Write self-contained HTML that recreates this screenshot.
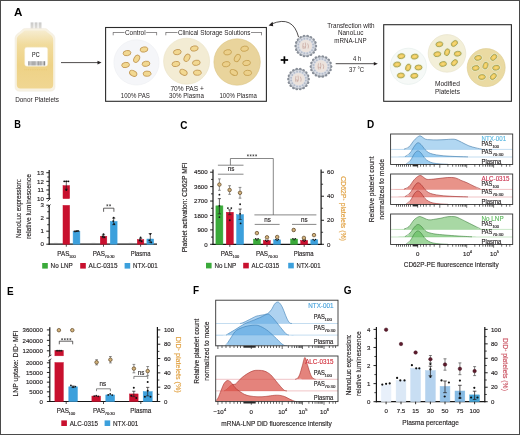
<!DOCTYPE html>
<html><head><meta charset="utf-8"><style>
html,body{margin:0;padding:0;background:#fff;}
body{width:520px;height:435px;overflow:hidden;position:relative;}
svg{position:absolute;left:0;top:0;display:block;will-change:transform;}
#frame{position:absolute;left:0;top:0;width:518px;height:433px;border:1px solid #4a4a4a;pointer-events:none;}
</style></head><body>
<svg width="520" height="435" viewBox="0 0 520 435" font-family='"Liberation Sans", sans-serif'>
<text x="14" y="16" font-size="11.6" text-anchor="start" fill="#000" font-weight="bold">A</text>
<defs><linearGradient id="bagg" x1="0" y1="0" x2="0" y2="1"><stop offset="0" stop-color="#f6ecd0"/><stop offset="0.25" stop-color="#f1db9c"/><stop offset="0.6" stop-color="#eed286"/><stop offset="1" stop-color="#f0d692"/></linearGradient><linearGradient id="nozg" x1="0" y1="0" x2="0" y2="1"><stop offset="0" stop-color="#c9c9c9"/><stop offset="1" stop-color="#e9e6dc"/></linearGradient></defs>
<rect x="30.6" y="22.4" width="2.9" height="9" fill="url(#nozg)" stroke="none" stroke-width="0.8"/>
<rect x="34.6" y="22.4" width="2.9" height="9" fill="url(#nozg)" stroke="none" stroke-width="0.8"/>
<rect x="38.6" y="22.4" width="2.9" height="9" fill="url(#nozg)" stroke="none" stroke-width="0.8"/>
<path d="M25.5,28.4 L44.5,28.4 C47,28.4 48,30 49.5,31.5 C51.5,33.3 55,34.5 55,39 L55,86.5 Q55,91.2 50.2,91.2 L19.8,91.2 Q15,91.2 15,86.5 L15,39 C15,34.5 18.5,33.3 20.5,31.5 C22,30 23,28.4 25.5,28.4 Z" fill="#f8f2e2" stroke="#efe9dc" stroke-width="0.5"/>
<path d="M26,30.4 L44,30.4 C46,30.4 47,32 48.5,33.3 C50.5,35 53.2,36 53.2,40 L53.2,84.8 Q53.2,88.4 49.6,88.4 L20.4,88.4 Q16.8,88.4 16.8,84.8 L16.8,40 C16.8,36 19.5,35 21.5,33.3 C23,32 24,30.4 26,30.4 Z" fill="url(#bagg)" stroke="none" stroke-width="0.8"/>
<rect x="24.7" y="47.2" width="23" height="19" fill="#ffffff" stroke="#f3e8c8" stroke-width="0.5" rx="2.2"/>
<text x="35.8" y="57.14" font-size="6.5" text-anchor="middle" fill="#333" font-weight="normal" textLength="7.4" lengthAdjust="spacingAndGlyphs" stroke="#333" stroke-width="0.15">PC</text>
<rect x="28.3" y="61.2" width="0.7" height="4.3" fill="#8a8a8a" stroke="none" stroke-width="0.8"/>
<rect x="29.4" y="61.2" width="1.1" height="4.3" fill="#8a8a8a" stroke="none" stroke-width="0.8"/>
<rect x="31" y="61.2" width="0.6" height="4.3" fill="#8a8a8a" stroke="none" stroke-width="0.8"/>
<rect x="32.3" y="61.2" width="1.4" height="4.3" fill="#8a8a8a" stroke="none" stroke-width="0.8"/>
<rect x="34.2" y="61.2" width="0.7" height="4.3" fill="#8a8a8a" stroke="none" stroke-width="0.8"/>
<rect x="35.4" y="61.2" width="1" height="4.3" fill="#8a8a8a" stroke="none" stroke-width="0.8"/>
<rect x="37" y="61.2" width="0.6" height="4.3" fill="#8a8a8a" stroke="none" stroke-width="0.8"/>
<rect x="38.2" y="61.2" width="1.4" height="4.3" fill="#8a8a8a" stroke="none" stroke-width="0.8"/>
<rect x="40.3" y="61.2" width="0.7" height="4.3" fill="#8a8a8a" stroke="none" stroke-width="0.8"/>
<rect x="41.4" y="61.2" width="1" height="4.3" fill="#8a8a8a" stroke="none" stroke-width="0.8"/>
<rect x="43" y="61.2" width="0.6" height="4.3" fill="#8a8a8a" stroke="none" stroke-width="0.8"/>
<rect x="44" y="61.2" width="1.2" height="4.3" fill="#8a8a8a" stroke="none" stroke-width="0.8"/>
<line x1="24.5" y1="69.7" x2="47.5" y2="69.7" stroke="#e6c160" stroke-width="0.5" stroke-dasharray="0.9 0.9"/>
<text x="37.1" y="101.7" font-size="6.4" text-anchor="middle" fill="#231f20" font-weight="normal" textLength="43.8" lengthAdjust="spacingAndGlyphs">Donor Platelets</text>
<line x1="61" y1="62.6" x2="99.5" y2="62.6" stroke="#231f20" stroke-width="0.8"/>
<path d="M101.5,62.6 L97.5,60.8 L97.5,64.4 Z" fill="#231f20" stroke="none" stroke-width="0.8"/>
<rect x="105.6" y="27.5" width="160.8" height="73.8" fill="none" stroke="#2b2b2b" stroke-width="1.1"/>
<line x1="113.2" y1="32.5" x2="124.5" y2="32.5" stroke="#231f20" stroke-width="0.5"/>
<line x1="146.2" y1="32.5" x2="156.6" y2="32.5" stroke="#231f20" stroke-width="0.5"/>
<line x1="113.2" y1="32.25" x2="113.2" y2="35.3" stroke="#231f20" stroke-width="0.5"/>
<line x1="156.6" y1="32.25" x2="156.6" y2="35.3" stroke="#231f20" stroke-width="0.5"/>
<text x="135.3" y="34.6" font-size="6.4" text-anchor="middle" fill="#231f20" font-weight="normal" textLength="20.6" lengthAdjust="spacingAndGlyphs">Control</text>
<line x1="165.8" y1="32.5" x2="177.5" y2="32.5" stroke="#231f20" stroke-width="0.5"/>
<line x1="251" y1="32.5" x2="261.5" y2="32.5" stroke="#231f20" stroke-width="0.5"/>
<line x1="165.8" y1="32.25" x2="165.8" y2="35.3" stroke="#231f20" stroke-width="0.5"/>
<line x1="261.5" y1="32.25" x2="261.5" y2="35.3" stroke="#231f20" stroke-width="0.5"/>
<text x="214.2" y="34.6" font-size="6.4" text-anchor="middle" fill="#231f20" font-weight="normal" textLength="72.5" lengthAdjust="spacingAndGlyphs">Clinical Storage Solutions</text>
<circle cx="136.5" cy="62.4" r="22.6" fill="#f5f6f9" stroke="#eceef2" stroke-width="0.6"/>
<circle cx="186.6" cy="61.2" r="23" fill="#f3ecd4" stroke="#e9e0c4" stroke-width="0.6"/>
<circle cx="237.1" cy="62" r="23.2" fill="#e9d49c" stroke="#dcc688" stroke-width="0.6"/>
<ellipse cx="127" cy="53.1" rx="3.9" ry="2.6" fill="#f2d891" stroke="#c59c58" stroke-width="0.9" transform="rotate(-10 127 53.1)"/>
<ellipse cx="144" cy="49.5" rx="3.9" ry="2.6" fill="#f2d891" stroke="#c59c58" stroke-width="0.9" transform="rotate(-10 144 49.5)"/>
<ellipse cx="136.7" cy="58.8" rx="3.9" ry="2.6" fill="#f2d891" stroke="#c59c58" stroke-width="0.9" transform="rotate(-60 136.7 58.8)"/>
<ellipse cx="125.6" cy="65" rx="3.9" ry="2.6" fill="#f2d891" stroke="#c59c58" stroke-width="0.9" transform="rotate(-10 125.6 65)"/>
<ellipse cx="146" cy="63.8" rx="3.9" ry="2.6" fill="#f2d891" stroke="#c59c58" stroke-width="0.9" transform="rotate(-10 146 63.8)"/>
<ellipse cx="133.2" cy="73.3" rx="3.9" ry="2.6" fill="#f2d891" stroke="#c59c58" stroke-width="0.9" transform="rotate(30 133.2 73.3)"/>
<ellipse cx="147.1" cy="73.7" rx="3.9" ry="2.6" fill="#f2d891" stroke="#c59c58" stroke-width="0.9" transform="rotate(-5 147.1 73.7)"/>
<ellipse cx="177.3" cy="52.1" rx="3.9" ry="2.6" fill="#f2d891" stroke="#c59c58" stroke-width="0.9" transform="rotate(-10 177.3 52.1)"/>
<ellipse cx="194.3" cy="48.5" rx="3.9" ry="2.6" fill="#f2d891" stroke="#c59c58" stroke-width="0.9" transform="rotate(-10 194.3 48.5)"/>
<ellipse cx="187" cy="57.8" rx="3.9" ry="2.6" fill="#f2d891" stroke="#c59c58" stroke-width="0.9" transform="rotate(-60 187 57.8)"/>
<ellipse cx="175.9" cy="64" rx="3.9" ry="2.6" fill="#f2d891" stroke="#c59c58" stroke-width="0.9" transform="rotate(-10 175.9 64)"/>
<ellipse cx="196.3" cy="62.8" rx="3.9" ry="2.6" fill="#f2d891" stroke="#c59c58" stroke-width="0.9" transform="rotate(-10 196.3 62.8)"/>
<ellipse cx="183.5" cy="72.3" rx="3.9" ry="2.6" fill="#f2d891" stroke="#c59c58" stroke-width="0.9" transform="rotate(30 183.5 72.3)"/>
<ellipse cx="197.4" cy="72.7" rx="3.9" ry="2.6" fill="#f2d891" stroke="#c59c58" stroke-width="0.9" transform="rotate(-5 197.4 72.7)"/>
<ellipse cx="227.6" cy="52.3" rx="3.9" ry="2.6" fill="#ecd08a" stroke="#c9a456" stroke-width="0.9" transform="rotate(-10 227.6 52.3)"/>
<ellipse cx="244.6" cy="48.7" rx="3.9" ry="2.6" fill="#ecd08a" stroke="#c9a456" stroke-width="0.9" transform="rotate(-10 244.6 48.7)"/>
<ellipse cx="237.3" cy="58" rx="3.9" ry="2.6" fill="#ecd08a" stroke="#c9a456" stroke-width="0.9" transform="rotate(-60 237.3 58)"/>
<ellipse cx="226.2" cy="64.2" rx="3.9" ry="2.6" fill="#ecd08a" stroke="#c9a456" stroke-width="0.9" transform="rotate(-10 226.2 64.2)"/>
<ellipse cx="246.6" cy="63" rx="3.9" ry="2.6" fill="#ecd08a" stroke="#c9a456" stroke-width="0.9" transform="rotate(-10 246.6 63)"/>
<ellipse cx="233.8" cy="72.5" rx="3.9" ry="2.6" fill="#ecd08a" stroke="#c9a456" stroke-width="0.9" transform="rotate(30 233.8 72.5)"/>
<ellipse cx="247.7" cy="72.9" rx="3.9" ry="2.6" fill="#ecd08a" stroke="#c9a456" stroke-width="0.9" transform="rotate(-5 247.7 72.9)"/>
<text x="135.3" y="98.4" font-size="6.4" text-anchor="middle" fill="#231f20" font-weight="normal" textLength="29" lengthAdjust="spacingAndGlyphs">100% PAS</text>
<text x="187.1" y="90.8" font-size="6.4" text-anchor="middle" fill="#231f20" font-weight="normal" textLength="33.4" lengthAdjust="spacingAndGlyphs">70% PAS +</text>
<text x="186.5" y="98.4" font-size="6.4" text-anchor="middle" fill="#231f20" font-weight="normal" textLength="35" lengthAdjust="spacingAndGlyphs">30% Plasma</text>
<text x="238.2" y="98.4" font-size="6.4" text-anchor="middle" fill="#231f20" font-weight="normal" textLength="37.5" lengthAdjust="spacingAndGlyphs">100% Plasma</text>
<path d="M298.6,37.2 Q293,15 271.5,24" fill="none" stroke="#231f20" stroke-width="0.8"/>
<path d="M268.6,25.6 L272.6,21.8 L273.2,26.2 Z" fill="#231f20" stroke="none" stroke-width="0.8"/>
<line x1="280.7" y1="60" x2="288.1" y2="60" stroke="#000" stroke-width="1.7"/>
<line x1="284.4" y1="56.3" x2="284.4" y2="63.7" stroke="#000" stroke-width="1.7"/>
<circle cx="315.7" cy="46" r="1.5" fill="#878d97" stroke="none" stroke-width="0.8"/>
<circle cx="315.1" cy="49.39" r="1.5" fill="#878d97" stroke="none" stroke-width="0.8"/>
<circle cx="313.38" cy="52.36" r="1.5" fill="#878d97" stroke="none" stroke-width="0.8"/>
<circle cx="310.75" cy="54.57" r="1.5" fill="#878d97" stroke="none" stroke-width="0.8"/>
<circle cx="307.52" cy="55.75" r="1.5" fill="#878d97" stroke="none" stroke-width="0.8"/>
<circle cx="304.08" cy="55.75" r="1.5" fill="#878d97" stroke="none" stroke-width="0.8"/>
<circle cx="300.85" cy="54.57" r="1.5" fill="#878d97" stroke="none" stroke-width="0.8"/>
<circle cx="298.22" cy="52.36" r="1.5" fill="#878d97" stroke="none" stroke-width="0.8"/>
<circle cx="296.5" cy="49.39" r="1.5" fill="#878d97" stroke="none" stroke-width="0.8"/>
<circle cx="295.9" cy="46" r="1.5" fill="#878d97" stroke="none" stroke-width="0.8"/>
<circle cx="296.5" cy="42.61" r="1.5" fill="#878d97" stroke="none" stroke-width="0.8"/>
<circle cx="298.22" cy="39.64" r="1.5" fill="#878d97" stroke="none" stroke-width="0.8"/>
<circle cx="300.85" cy="37.43" r="1.5" fill="#878d97" stroke="none" stroke-width="0.8"/>
<circle cx="304.08" cy="36.25" r="1.5" fill="#878d97" stroke="none" stroke-width="0.8"/>
<circle cx="307.52" cy="36.25" r="1.5" fill="#878d97" stroke="none" stroke-width="0.8"/>
<circle cx="310.75" cy="37.43" r="1.5" fill="#878d97" stroke="none" stroke-width="0.8"/>
<circle cx="313.38" cy="39.64" r="1.5" fill="#878d97" stroke="none" stroke-width="0.8"/>
<circle cx="315.1" cy="42.61" r="1.5" fill="#878d97" stroke="none" stroke-width="0.8"/>
<circle cx="305.8" cy="46" r="9.4" fill="#dcdfe6" stroke="#99a0aa" stroke-width="0.5"/>
<circle cx="313.16" cy="47.46" r="1" fill="#b4bccb" stroke="none" stroke-width="0.8"/>
<circle cx="312.04" cy="50.17" r="1" fill="#b4bccb" stroke="none" stroke-width="0.8"/>
<circle cx="309.97" cy="52.24" r="1" fill="#b4bccb" stroke="none" stroke-width="0.8"/>
<circle cx="307.26" cy="53.36" r="1" fill="#b4bccb" stroke="none" stroke-width="0.8"/>
<circle cx="304.34" cy="53.36" r="1" fill="#b4bccb" stroke="none" stroke-width="0.8"/>
<circle cx="301.63" cy="52.24" r="1" fill="#b4bccb" stroke="none" stroke-width="0.8"/>
<circle cx="299.56" cy="50.17" r="1" fill="#b4bccb" stroke="none" stroke-width="0.8"/>
<circle cx="298.44" cy="47.46" r="1" fill="#b4bccb" stroke="none" stroke-width="0.8"/>
<circle cx="298.44" cy="44.54" r="1" fill="#b4bccb" stroke="none" stroke-width="0.8"/>
<circle cx="299.56" cy="41.83" r="1" fill="#b4bccb" stroke="none" stroke-width="0.8"/>
<circle cx="301.63" cy="39.76" r="1" fill="#b4bccb" stroke="none" stroke-width="0.8"/>
<circle cx="304.34" cy="38.64" r="1" fill="#b4bccb" stroke="none" stroke-width="0.8"/>
<circle cx="307.26" cy="38.64" r="1" fill="#b4bccb" stroke="none" stroke-width="0.8"/>
<circle cx="309.97" cy="39.76" r="1" fill="#b4bccb" stroke="none" stroke-width="0.8"/>
<circle cx="312.04" cy="41.83" r="1" fill="#b4bccb" stroke="none" stroke-width="0.8"/>
<circle cx="313.16" cy="44.54" r="1" fill="#b4bccb" stroke="none" stroke-width="0.8"/>
<circle cx="305.8" cy="46" r="6.2" fill="#ece3dd" stroke="none" stroke-width="0.8"/>
<path d="M303.3,43 q-1,3 0,6 M305.3,42.5 q1,3 -0.5,6.5 M307.6,43.5 q1.5,2.5 0.5,5 M302.8,47 c1,-1 2,1 3,0" fill="none" stroke="#c09a92" stroke-width="0.6"/>
<circle cx="330.9" cy="66.4" r="1.5" fill="#878d97" stroke="none" stroke-width="0.8"/>
<circle cx="330.3" cy="69.79" r="1.5" fill="#878d97" stroke="none" stroke-width="0.8"/>
<circle cx="328.58" cy="72.76" r="1.5" fill="#878d97" stroke="none" stroke-width="0.8"/>
<circle cx="325.95" cy="74.97" r="1.5" fill="#878d97" stroke="none" stroke-width="0.8"/>
<circle cx="322.72" cy="76.15" r="1.5" fill="#878d97" stroke="none" stroke-width="0.8"/>
<circle cx="319.28" cy="76.15" r="1.5" fill="#878d97" stroke="none" stroke-width="0.8"/>
<circle cx="316.05" cy="74.97" r="1.5" fill="#878d97" stroke="none" stroke-width="0.8"/>
<circle cx="313.42" cy="72.76" r="1.5" fill="#878d97" stroke="none" stroke-width="0.8"/>
<circle cx="311.7" cy="69.79" r="1.5" fill="#878d97" stroke="none" stroke-width="0.8"/>
<circle cx="311.1" cy="66.4" r="1.5" fill="#878d97" stroke="none" stroke-width="0.8"/>
<circle cx="311.7" cy="63.01" r="1.5" fill="#878d97" stroke="none" stroke-width="0.8"/>
<circle cx="313.42" cy="60.04" r="1.5" fill="#878d97" stroke="none" stroke-width="0.8"/>
<circle cx="316.05" cy="57.83" r="1.5" fill="#878d97" stroke="none" stroke-width="0.8"/>
<circle cx="319.28" cy="56.65" r="1.5" fill="#878d97" stroke="none" stroke-width="0.8"/>
<circle cx="322.72" cy="56.65" r="1.5" fill="#878d97" stroke="none" stroke-width="0.8"/>
<circle cx="325.95" cy="57.83" r="1.5" fill="#878d97" stroke="none" stroke-width="0.8"/>
<circle cx="328.58" cy="60.04" r="1.5" fill="#878d97" stroke="none" stroke-width="0.8"/>
<circle cx="330.3" cy="63.01" r="1.5" fill="#878d97" stroke="none" stroke-width="0.8"/>
<circle cx="321" cy="66.4" r="9.4" fill="#dcdfe6" stroke="#99a0aa" stroke-width="0.5"/>
<circle cx="328.36" cy="67.86" r="1" fill="#b4bccb" stroke="none" stroke-width="0.8"/>
<circle cx="327.24" cy="70.57" r="1" fill="#b4bccb" stroke="none" stroke-width="0.8"/>
<circle cx="325.17" cy="72.64" r="1" fill="#b4bccb" stroke="none" stroke-width="0.8"/>
<circle cx="322.46" cy="73.76" r="1" fill="#b4bccb" stroke="none" stroke-width="0.8"/>
<circle cx="319.54" cy="73.76" r="1" fill="#b4bccb" stroke="none" stroke-width="0.8"/>
<circle cx="316.83" cy="72.64" r="1" fill="#b4bccb" stroke="none" stroke-width="0.8"/>
<circle cx="314.76" cy="70.57" r="1" fill="#b4bccb" stroke="none" stroke-width="0.8"/>
<circle cx="313.64" cy="67.86" r="1" fill="#b4bccb" stroke="none" stroke-width="0.8"/>
<circle cx="313.64" cy="64.94" r="1" fill="#b4bccb" stroke="none" stroke-width="0.8"/>
<circle cx="314.76" cy="62.23" r="1" fill="#b4bccb" stroke="none" stroke-width="0.8"/>
<circle cx="316.83" cy="60.16" r="1" fill="#b4bccb" stroke="none" stroke-width="0.8"/>
<circle cx="319.54" cy="59.04" r="1" fill="#b4bccb" stroke="none" stroke-width="0.8"/>
<circle cx="322.46" cy="59.04" r="1" fill="#b4bccb" stroke="none" stroke-width="0.8"/>
<circle cx="325.17" cy="60.16" r="1" fill="#b4bccb" stroke="none" stroke-width="0.8"/>
<circle cx="327.24" cy="62.23" r="1" fill="#b4bccb" stroke="none" stroke-width="0.8"/>
<circle cx="328.36" cy="64.94" r="1" fill="#b4bccb" stroke="none" stroke-width="0.8"/>
<circle cx="321" cy="66.4" r="6.2" fill="#ece3dd" stroke="none" stroke-width="0.8"/>
<path d="M318.5,63.4 q-1,3 0,6 M320.5,62.9 q1,3 -0.5,6.5 M322.8,63.9 q1.5,2.5 0.5,5 M318,67.4 c1,-1 2,1 3,0" fill="none" stroke="#c09a92" stroke-width="0.6"/>
<circle cx="308.4" cy="79.1" r="1.5" fill="#878d97" stroke="none" stroke-width="0.8"/>
<circle cx="307.8" cy="82.49" r="1.5" fill="#878d97" stroke="none" stroke-width="0.8"/>
<circle cx="306.08" cy="85.46" r="1.5" fill="#878d97" stroke="none" stroke-width="0.8"/>
<circle cx="303.45" cy="87.67" r="1.5" fill="#878d97" stroke="none" stroke-width="0.8"/>
<circle cx="300.22" cy="88.85" r="1.5" fill="#878d97" stroke="none" stroke-width="0.8"/>
<circle cx="296.78" cy="88.85" r="1.5" fill="#878d97" stroke="none" stroke-width="0.8"/>
<circle cx="293.55" cy="87.67" r="1.5" fill="#878d97" stroke="none" stroke-width="0.8"/>
<circle cx="290.92" cy="85.46" r="1.5" fill="#878d97" stroke="none" stroke-width="0.8"/>
<circle cx="289.2" cy="82.49" r="1.5" fill="#878d97" stroke="none" stroke-width="0.8"/>
<circle cx="288.6" cy="79.1" r="1.5" fill="#878d97" stroke="none" stroke-width="0.8"/>
<circle cx="289.2" cy="75.71" r="1.5" fill="#878d97" stroke="none" stroke-width="0.8"/>
<circle cx="290.92" cy="72.74" r="1.5" fill="#878d97" stroke="none" stroke-width="0.8"/>
<circle cx="293.55" cy="70.53" r="1.5" fill="#878d97" stroke="none" stroke-width="0.8"/>
<circle cx="296.78" cy="69.35" r="1.5" fill="#878d97" stroke="none" stroke-width="0.8"/>
<circle cx="300.22" cy="69.35" r="1.5" fill="#878d97" stroke="none" stroke-width="0.8"/>
<circle cx="303.45" cy="70.53" r="1.5" fill="#878d97" stroke="none" stroke-width="0.8"/>
<circle cx="306.08" cy="72.74" r="1.5" fill="#878d97" stroke="none" stroke-width="0.8"/>
<circle cx="307.8" cy="75.71" r="1.5" fill="#878d97" stroke="none" stroke-width="0.8"/>
<circle cx="298.5" cy="79.1" r="9.4" fill="#dcdfe6" stroke="#99a0aa" stroke-width="0.5"/>
<circle cx="305.86" cy="80.56" r="1" fill="#b4bccb" stroke="none" stroke-width="0.8"/>
<circle cx="304.74" cy="83.27" r="1" fill="#b4bccb" stroke="none" stroke-width="0.8"/>
<circle cx="302.67" cy="85.34" r="1" fill="#b4bccb" stroke="none" stroke-width="0.8"/>
<circle cx="299.96" cy="86.46" r="1" fill="#b4bccb" stroke="none" stroke-width="0.8"/>
<circle cx="297.04" cy="86.46" r="1" fill="#b4bccb" stroke="none" stroke-width="0.8"/>
<circle cx="294.33" cy="85.34" r="1" fill="#b4bccb" stroke="none" stroke-width="0.8"/>
<circle cx="292.26" cy="83.27" r="1" fill="#b4bccb" stroke="none" stroke-width="0.8"/>
<circle cx="291.14" cy="80.56" r="1" fill="#b4bccb" stroke="none" stroke-width="0.8"/>
<circle cx="291.14" cy="77.64" r="1" fill="#b4bccb" stroke="none" stroke-width="0.8"/>
<circle cx="292.26" cy="74.93" r="1" fill="#b4bccb" stroke="none" stroke-width="0.8"/>
<circle cx="294.33" cy="72.86" r="1" fill="#b4bccb" stroke="none" stroke-width="0.8"/>
<circle cx="297.04" cy="71.74" r="1" fill="#b4bccb" stroke="none" stroke-width="0.8"/>
<circle cx="299.96" cy="71.74" r="1" fill="#b4bccb" stroke="none" stroke-width="0.8"/>
<circle cx="302.67" cy="72.86" r="1" fill="#b4bccb" stroke="none" stroke-width="0.8"/>
<circle cx="304.74" cy="74.93" r="1" fill="#b4bccb" stroke="none" stroke-width="0.8"/>
<circle cx="305.86" cy="77.64" r="1" fill="#b4bccb" stroke="none" stroke-width="0.8"/>
<circle cx="298.5" cy="79.1" r="6.2" fill="#ece3dd" stroke="none" stroke-width="0.8"/>
<path d="M296,76.1 q-1,3 0,6 M298,75.6 q1,3 -0.5,6.5 M300.3,76.6 q1.5,2.5 0.5,5 M295.5,80.1 c1,-1 2,1 3,0" fill="none" stroke="#c09a92" stroke-width="0.6"/>
<text x="350.9" y="27.8" font-size="6.4" text-anchor="middle" fill="#231f20" font-weight="normal" textLength="47.4" lengthAdjust="spacingAndGlyphs">Transfection with</text>
<text x="350.7" y="35.3" font-size="6.4" text-anchor="middle" fill="#231f20" font-weight="normal" textLength="25.4" lengthAdjust="spacingAndGlyphs">NanoLuc</text>
<text x="350.5" y="43" font-size="6.4" text-anchor="middle" fill="#231f20" font-weight="normal" textLength="32.5" lengthAdjust="spacingAndGlyphs">mRNA-LNP</text>
<line x1="335.7" y1="63.7" x2="375" y2="63.7" stroke="#231f20" stroke-width="0.8"/>
<path d="M377.8,63.7 L373.8,61.9 L373.8,65.5 Z" fill="#231f20" stroke="none" stroke-width="0.8"/>
<text x="357" y="61.1" font-size="6.4" text-anchor="middle" fill="#231f20" font-weight="normal" textLength="8.2" lengthAdjust="spacingAndGlyphs">4 h</text>
<text x="356.6" y="72.3" font-size="6.4" text-anchor="middle" fill="#231f20" font-weight="normal" textLength="15" lengthAdjust="spacingAndGlyphs">37 °C</text>
<rect x="383.7" y="24.7" width="127.7" height="76.6" fill="none" stroke="#2b2b2b" stroke-width="1.1"/>
<circle cx="408.4" cy="66.3" r="18.1" fill="#f6f9f7" stroke="#e3ecea" stroke-width="0.6"/>
<circle cx="447" cy="53.4" r="18.8" fill="#f3efd8" stroke="#e6e1c8" stroke-width="0.6"/>
<circle cx="486.2" cy="67.6" r="19" fill="#eadaa2" stroke="#dccb8e" stroke-width="0.6"/>
<ellipse cx="401.3" cy="56.2" rx="4.7" ry="3.5" fill="#e6f0d6" fill-opacity="0.7" transform="rotate(-10 401.3 56.2)"/>
<ellipse cx="401.3" cy="56.2" rx="3.5" ry="2.4" fill="#efc95c" stroke="#a8a45a" stroke-width="0.9" transform="rotate(-10 401.3 56.2)"/>
<ellipse cx="401.3" cy="56.2" rx="1.7" ry="1" fill="#f5d878" transform="rotate(-10 401.3 56.2)"/>
<ellipse cx="414.7" cy="56.6" rx="4.7" ry="3.5" fill="#e6f0d6" fill-opacity="0.7" transform="rotate(-10 414.7 56.6)"/>
<ellipse cx="414.7" cy="56.6" rx="3.5" ry="2.4" fill="#efc95c" stroke="#a8a45a" stroke-width="0.9" transform="rotate(-10 414.7 56.6)"/>
<ellipse cx="414.7" cy="56.6" rx="1.7" ry="1" fill="#f5d878" transform="rotate(-10 414.7 56.6)"/>
<ellipse cx="397.1" cy="64.5" rx="4.7" ry="3.5" fill="#e6f0d6" fill-opacity="0.7" transform="rotate(-10 397.1 64.5)"/>
<ellipse cx="397.1" cy="64.5" rx="3.5" ry="2.4" fill="#efc95c" stroke="#a8a45a" stroke-width="0.9" transform="rotate(-10 397.1 64.5)"/>
<ellipse cx="397.1" cy="64.5" rx="1.7" ry="1" fill="#f5d878" transform="rotate(-10 397.1 64.5)"/>
<ellipse cx="408.2" cy="67.5" rx="4.7" ry="3.5" fill="#e6f0d6" fill-opacity="0.7" transform="rotate(-70 408.2 67.5)"/>
<ellipse cx="408.2" cy="67.5" rx="3.5" ry="2.4" fill="#efc95c" stroke="#a8a45a" stroke-width="0.9" transform="rotate(-70 408.2 67.5)"/>
<ellipse cx="408.2" cy="67.5" rx="1.7" ry="1" fill="#f5d878" transform="rotate(-70 408.2 67.5)"/>
<ellipse cx="418.5" cy="67.5" rx="4.7" ry="3.5" fill="#e6f0d6" fill-opacity="0.7" transform="rotate(-5 418.5 67.5)"/>
<ellipse cx="418.5" cy="67.5" rx="3.5" ry="2.4" fill="#efc95c" stroke="#a8a45a" stroke-width="0.9" transform="rotate(-5 418.5 67.5)"/>
<ellipse cx="418.5" cy="67.5" rx="1.7" ry="1" fill="#f5d878" transform="rotate(-5 418.5 67.5)"/>
<ellipse cx="400.9" cy="75.5" rx="4.7" ry="3.5" fill="#e6f0d6" fill-opacity="0.7" transform="rotate(-5 400.9 75.5)"/>
<ellipse cx="400.9" cy="75.5" rx="3.5" ry="2.4" fill="#efc95c" stroke="#a8a45a" stroke-width="0.9" transform="rotate(-5 400.9 75.5)"/>
<ellipse cx="400.9" cy="75.5" rx="1.7" ry="1" fill="#f5d878" transform="rotate(-5 400.9 75.5)"/>
<ellipse cx="414.3" cy="75.8" rx="4.7" ry="3.5" fill="#e6f0d6" fill-opacity="0.7" transform="rotate(-10 414.3 75.8)"/>
<ellipse cx="414.3" cy="75.8" rx="3.5" ry="2.4" fill="#efc95c" stroke="#a8a45a" stroke-width="0.9" transform="rotate(-10 414.3 75.8)"/>
<ellipse cx="414.3" cy="75.8" rx="1.7" ry="1" fill="#f5d878" transform="rotate(-10 414.3 75.8)"/>
<ellipse cx="439.4" cy="44.3" rx="4.7" ry="3.5" fill="#e6f0d6" fill-opacity="0.7" transform="rotate(-10 439.4 44.3)"/>
<ellipse cx="439.4" cy="44.3" rx="3.5" ry="2.4" fill="#efc95c" stroke="#a8a45a" stroke-width="0.9" transform="rotate(-10 439.4 44.3)"/>
<ellipse cx="439.4" cy="44.3" rx="1.7" ry="1" fill="#f5d878" transform="rotate(-10 439.4 44.3)"/>
<ellipse cx="454.4" cy="43.5" rx="4.7" ry="3.5" fill="#e6f0d6" fill-opacity="0.7" transform="rotate(-40 454.4 43.5)"/>
<ellipse cx="454.4" cy="43.5" rx="3.5" ry="2.4" fill="#efc95c" stroke="#a8a45a" stroke-width="0.9" transform="rotate(-40 454.4 43.5)"/>
<ellipse cx="454.4" cy="43.5" rx="1.7" ry="1" fill="#f5d878" transform="rotate(-40 454.4 43.5)"/>
<ellipse cx="447.1" cy="52.2" rx="4.7" ry="3.5" fill="#e6f0d6" fill-opacity="0.7" transform="rotate(-70 447.1 52.2)"/>
<ellipse cx="447.1" cy="52.2" rx="3.5" ry="2.4" fill="#efc95c" stroke="#a8a45a" stroke-width="0.9" transform="rotate(-70 447.1 52.2)"/>
<ellipse cx="447.1" cy="52.2" rx="1.7" ry="1" fill="#f5d878" transform="rotate(-70 447.1 52.2)"/>
<ellipse cx="437.3" cy="54.2" rx="4.7" ry="3.5" fill="#e6f0d6" fill-opacity="0.7" transform="rotate(-10 437.3 54.2)"/>
<ellipse cx="437.3" cy="54.2" rx="3.5" ry="2.4" fill="#efc95c" stroke="#a8a45a" stroke-width="0.9" transform="rotate(-10 437.3 54.2)"/>
<ellipse cx="437.3" cy="54.2" rx="1.7" ry="1" fill="#f5d878" transform="rotate(-10 437.3 54.2)"/>
<ellipse cx="457.7" cy="53.7" rx="4.7" ry="3.5" fill="#e6f0d6" fill-opacity="0.7" transform="rotate(-10 457.7 53.7)"/>
<ellipse cx="457.7" cy="53.7" rx="3.5" ry="2.4" fill="#efc95c" stroke="#a8a45a" stroke-width="0.9" transform="rotate(-10 457.7 53.7)"/>
<ellipse cx="457.7" cy="53.7" rx="1.7" ry="1" fill="#f5d878" transform="rotate(-10 457.7 53.7)"/>
<ellipse cx="443" cy="64" rx="4.7" ry="3.5" fill="#e6f0d6" fill-opacity="0.7" transform="rotate(-10 443 64)"/>
<ellipse cx="443" cy="64" rx="3.5" ry="2.4" fill="#efc95c" stroke="#a8a45a" stroke-width="0.9" transform="rotate(-10 443 64)"/>
<ellipse cx="443" cy="64" rx="1.7" ry="1" fill="#f5d878" transform="rotate(-10 443 64)"/>
<ellipse cx="454.4" cy="62.7" rx="4.7" ry="3.5" fill="#e6f0d6" fill-opacity="0.7" transform="rotate(-45 454.4 62.7)"/>
<ellipse cx="454.4" cy="62.7" rx="3.5" ry="2.4" fill="#efc95c" stroke="#a8a45a" stroke-width="0.9" transform="rotate(-45 454.4 62.7)"/>
<ellipse cx="454.4" cy="62.7" rx="1.7" ry="1" fill="#f5d878" transform="rotate(-45 454.4 62.7)"/>
<ellipse cx="478.1" cy="57.9" rx="4.7" ry="3.5" fill="#e6f0d6" fill-opacity="0.7" transform="rotate(-10 478.1 57.9)"/>
<ellipse cx="478.1" cy="57.9" rx="3.5" ry="2.4" fill="#efc95c" stroke="#a8a45a" stroke-width="0.9" transform="rotate(-10 478.1 57.9)"/>
<ellipse cx="478.1" cy="57.9" rx="1.7" ry="1" fill="#f5d878" transform="rotate(-10 478.1 57.9)"/>
<ellipse cx="493.7" cy="57.4" rx="4.7" ry="3.5" fill="#e6f0d6" fill-opacity="0.7" transform="rotate(-45 493.7 57.4)"/>
<ellipse cx="493.7" cy="57.4" rx="3.5" ry="2.4" fill="#efc95c" stroke="#a8a45a" stroke-width="0.9" transform="rotate(-45 493.7 57.4)"/>
<ellipse cx="493.7" cy="57.4" rx="1.7" ry="1" fill="#f5d878" transform="rotate(-45 493.7 57.4)"/>
<ellipse cx="485.5" cy="65.6" rx="4.7" ry="3.5" fill="#e6f0d6" fill-opacity="0.7" transform="rotate(-70 485.5 65.6)"/>
<ellipse cx="485.5" cy="65.6" rx="3.5" ry="2.4" fill="#efc95c" stroke="#a8a45a" stroke-width="0.9" transform="rotate(-70 485.5 65.6)"/>
<ellipse cx="485.5" cy="65.6" rx="1.7" ry="1" fill="#f5d878" transform="rotate(-70 485.5 65.6)"/>
<ellipse cx="475.7" cy="68" rx="4.7" ry="3.5" fill="#e6f0d6" fill-opacity="0.7" transform="rotate(-10 475.7 68)"/>
<ellipse cx="475.7" cy="68" rx="3.5" ry="2.4" fill="#efc95c" stroke="#a8a45a" stroke-width="0.9" transform="rotate(-10 475.7 68)"/>
<ellipse cx="475.7" cy="68" rx="1.7" ry="1" fill="#f5d878" transform="rotate(-10 475.7 68)"/>
<ellipse cx="496.1" cy="67.7" rx="4.7" ry="3.5" fill="#e6f0d6" fill-opacity="0.7" transform="rotate(-10 496.1 67.7)"/>
<ellipse cx="496.1" cy="67.7" rx="3.5" ry="2.4" fill="#efc95c" stroke="#a8a45a" stroke-width="0.9" transform="rotate(-10 496.1 67.7)"/>
<ellipse cx="496.1" cy="67.7" rx="1.7" ry="1" fill="#f5d878" transform="rotate(-10 496.1 67.7)"/>
<ellipse cx="481.9" cy="77" rx="4.7" ry="3.5" fill="#e6f0d6" fill-opacity="0.7" transform="rotate(-5 481.9 77)"/>
<ellipse cx="481.9" cy="77" rx="3.5" ry="2.4" fill="#efc95c" stroke="#a8a45a" stroke-width="0.9" transform="rotate(-5 481.9 77)"/>
<ellipse cx="481.9" cy="77" rx="1.7" ry="1" fill="#f5d878" transform="rotate(-5 481.9 77)"/>
<ellipse cx="493.3" cy="76.5" rx="4.7" ry="3.5" fill="#e6f0d6" fill-opacity="0.7" transform="rotate(-45 493.3 76.5)"/>
<ellipse cx="493.3" cy="76.5" rx="3.5" ry="2.4" fill="#efc95c" stroke="#a8a45a" stroke-width="0.9" transform="rotate(-45 493.3 76.5)"/>
<ellipse cx="493.3" cy="76.5" rx="1.7" ry="1" fill="#f5d878" transform="rotate(-45 493.3 76.5)"/>
<text x="447.4" y="85.6" font-size="6.4" text-anchor="middle" fill="#231f20" font-weight="normal" textLength="25" lengthAdjust="spacingAndGlyphs">Modified</text>
<text x="447.4" y="93.6" font-size="6.4" text-anchor="middle" fill="#231f20" font-weight="normal" textLength="25" lengthAdjust="spacingAndGlyphs">Platelets</text>
<text x="14.2" y="128" font-size="11.6" text-anchor="start" fill="#000" font-weight="bold" textLength="6.65" lengthAdjust="spacingAndGlyphs">B</text>
<line x1="49.2" y1="170" x2="49.2" y2="198.9" stroke="#151515" stroke-width="1.2"/>
<line x1="49.2" y1="205.2" x2="49.2" y2="244.8" stroke="#151515" stroke-width="1.2"/>
<line x1="47.7" y1="201.2" x2="50.5" y2="198.4" stroke="#151515" stroke-width="0.9"/>
<line x1="47.7" y1="207.4" x2="50.5" y2="204.6" stroke="#151515" stroke-width="0.9"/>
<line x1="46.3" y1="172.71" x2="49.2" y2="172.71" stroke="#151515" stroke-width="0.95"/>
<text x="43.9" y="174.91" font-size="6.1" text-anchor="end" fill="#231f20" font-weight="normal" stroke="#231f20" stroke-width="0.15">13</text>
<line x1="46.3" y1="181.34" x2="49.2" y2="181.34" stroke="#151515" stroke-width="0.95"/>
<text x="43.9" y="183.54" font-size="6.1" text-anchor="end" fill="#231f20" font-weight="normal" stroke="#231f20" stroke-width="0.15">12</text>
<line x1="46.3" y1="189.97" x2="49.2" y2="189.97" stroke="#151515" stroke-width="0.95"/>
<text x="43.9" y="192.17" font-size="6.1" text-anchor="end" fill="#231f20" font-weight="normal" stroke="#231f20" stroke-width="0.15">11</text>
<line x1="46.3" y1="198.6" x2="49.2" y2="198.6" stroke="#151515" stroke-width="0.95"/>
<text x="43.9" y="200.8" font-size="6.1" text-anchor="end" fill="#231f20" font-weight="normal" stroke="#231f20" stroke-width="0.15">10</text>
<line x1="47.2" y1="177.02" x2="49.2" y2="177.02" stroke="#151515" stroke-width="0.81"/>
<line x1="47.2" y1="185.66" x2="49.2" y2="185.66" stroke="#151515" stroke-width="0.81"/>
<line x1="47.2" y1="194.28" x2="49.2" y2="194.28" stroke="#151515" stroke-width="0.81"/>
<line x1="46.3" y1="205.2" x2="49.2" y2="205.2" stroke="#151515" stroke-width="0.95"/>
<text x="43.9" y="207.4" font-size="6.1" text-anchor="end" fill="#231f20" font-weight="normal" stroke="#231f20" stroke-width="0.15">3</text>
<line x1="46.3" y1="218.2" x2="49.2" y2="218.2" stroke="#151515" stroke-width="0.95"/>
<text x="43.9" y="220.4" font-size="6.1" text-anchor="end" fill="#231f20" font-weight="normal" stroke="#231f20" stroke-width="0.15">2</text>
<line x1="46.3" y1="231.2" x2="49.2" y2="231.2" stroke="#151515" stroke-width="0.95"/>
<text x="43.9" y="233.4" font-size="6.1" text-anchor="end" fill="#231f20" font-weight="normal" stroke="#231f20" stroke-width="0.15">1</text>
<line x1="46.3" y1="244.2" x2="49.2" y2="244.2" stroke="#151515" stroke-width="0.95"/>
<text x="43.9" y="246.4" font-size="6.1" text-anchor="end" fill="#231f20" font-weight="normal" stroke="#231f20" stroke-width="0.15">0</text>
<line x1="47.2" y1="211.7" x2="49.2" y2="211.7" stroke="#151515" stroke-width="0.81"/>
<line x1="47.2" y1="224.7" x2="49.2" y2="224.7" stroke="#151515" stroke-width="0.81"/>
<line x1="47.2" y1="237.7" x2="49.2" y2="237.7" stroke="#151515" stroke-width="0.81"/>
<line x1="48.6" y1="244.2" x2="157" y2="244.2" stroke="#151515" stroke-width="1.2"/>
<line x1="66.3" y1="244.2" x2="66.3" y2="246.7" stroke="#231f20" stroke-width="0.8"/>
<line x1="103.5" y1="244.2" x2="103.5" y2="246.7" stroke="#231f20" stroke-width="0.8"/>
<line x1="140.6" y1="244.2" x2="140.6" y2="246.7" stroke="#231f20" stroke-width="0.8"/>
<line x1="54.2" y1="243.4" x2="57.7" y2="243.4" stroke="#888" stroke-width="0.6"/>
<rect x="63" y="185.66" width="6.6" height="12.94" fill="#c8102e" stroke="#c8102e" stroke-width="0.5"/>
<rect x="63" y="205.4" width="6.6" height="38.8" fill="#c8102e" stroke="#c8102e" stroke-width="0.5"/>
<line x1="66.3" y1="181.34" x2="66.3" y2="189.11" stroke="#231f20" stroke-width="0.7"/>
<line x1="64.7" y1="181.34" x2="67.9" y2="181.34" stroke="#231f20" stroke-width="0.7"/>
<line x1="64.7" y1="189.11" x2="67.9" y2="189.11" stroke="#231f20" stroke-width="0.7"/>
<circle cx="64.2" cy="181.34" r="0.95" fill="#111" stroke="none" stroke-width="0.8"/>
<circle cx="66.3" cy="181.34" r="0.95" fill="#111" stroke="none" stroke-width="0.8"/>
<circle cx="68.4" cy="181.34" r="0.95" fill="#111" stroke="none" stroke-width="0.8"/>
<circle cx="66.3" cy="189.97" r="0.95" fill="#111" stroke="none" stroke-width="0.8"/>
<rect x="73.1" y="231.2" width="6.8" height="13" fill="#3ca0dc" stroke="#3ca0dc" stroke-width="0.5"/>
<circle cx="75" cy="231.46" r="0.9" fill="#111" stroke="none" stroke-width="0.8"/>
<circle cx="76.5" cy="231.2" r="0.9" fill="#111" stroke="none" stroke-width="0.8"/>
<circle cx="78" cy="230.94" r="0.9" fill="#111" stroke="none" stroke-width="0.8"/>
<line x1="73.5" y1="231.2" x2="79.5" y2="231.2" stroke="#231f20" stroke-width="0.7"/>
<line x1="91.7" y1="243.4" x2="95.4" y2="243.4" stroke="#888" stroke-width="0.6"/>
<rect x="100.3" y="236.4" width="6.5" height="7.8" fill="#c8102e" stroke="#c8102e" stroke-width="0.5"/>
<line x1="103.5" y1="234.84" x2="103.5" y2="237.7" stroke="#231f20" stroke-width="0.7"/>
<line x1="101.9" y1="234.84" x2="105.1" y2="234.84" stroke="#231f20" stroke-width="0.7"/>
<line x1="101.9" y1="237.7" x2="105.1" y2="237.7" stroke="#231f20" stroke-width="0.7"/>
<circle cx="103.5" cy="234.06" r="0.9" fill="#111" stroke="none" stroke-width="0.8"/>
<circle cx="102.5" cy="236.4" r="0.9" fill="#111" stroke="none" stroke-width="0.8"/>
<circle cx="104.5" cy="237.05" r="0.9" fill="#111" stroke="none" stroke-width="0.8"/>
<rect x="110.3" y="221.45" width="6.8" height="22.75" fill="#3ca0dc" stroke="#3ca0dc" stroke-width="0.5"/>
<line x1="113.7" y1="218.2" x2="113.7" y2="224.7" stroke="#231f20" stroke-width="0.7"/>
<line x1="112.1" y1="218.2" x2="115.3" y2="218.2" stroke="#231f20" stroke-width="0.7"/>
<line x1="112.1" y1="224.7" x2="115.3" y2="224.7" stroke="#231f20" stroke-width="0.7"/>
<circle cx="113.7" cy="217.55" r="0.9" fill="#111" stroke="none" stroke-width="0.8"/>
<circle cx="113.2" cy="221.06" r="0.9" fill="#111" stroke="none" stroke-width="0.8"/>
<circle cx="114.2" cy="224.05" r="0.9" fill="#111" stroke="none" stroke-width="0.8"/>
<line x1="103.6" y1="208.2" x2="113.9" y2="208.2" stroke="#231f20" stroke-width="0.7"/>
<line x1="103.6" y1="208.2" x2="103.6" y2="211.8" stroke="#231f20" stroke-width="0.7"/>
<line x1="113.9" y1="208.2" x2="113.9" y2="211.8" stroke="#231f20" stroke-width="0.7"/>
<line x1="107.33" y1="204.25" x2="107.33" y2="206.35" stroke="#333" stroke-width="0.55"/>
<line x1="106.42" y1="204.78" x2="108.23" y2="205.83" stroke="#333" stroke-width="0.55"/>
<line x1="106.42" y1="205.83" x2="108.23" y2="204.78" stroke="#333" stroke-width="0.55"/>
<line x1="110.08" y1="204.25" x2="110.08" y2="206.35" stroke="#333" stroke-width="0.55"/>
<line x1="109.17" y1="204.78" x2="110.98" y2="205.83" stroke="#333" stroke-width="0.55"/>
<line x1="109.17" y1="205.83" x2="110.98" y2="204.78" stroke="#333" stroke-width="0.55"/>
<line x1="128.8" y1="243.4" x2="132.5" y2="243.4" stroke="#888" stroke-width="0.6"/>
<rect x="137.3" y="239.65" width="6.5" height="4.55" fill="#c8102e" stroke="#c8102e" stroke-width="0.5"/>
<line x1="140.6" y1="238.35" x2="140.6" y2="240.95" stroke="#231f20" stroke-width="0.7"/>
<line x1="139" y1="238.35" x2="142.2" y2="238.35" stroke="#231f20" stroke-width="0.7"/>
<line x1="139" y1="240.95" x2="142.2" y2="240.95" stroke="#231f20" stroke-width="0.7"/>
<circle cx="140.6" cy="237.44" r="0.9" fill="#111" stroke="none" stroke-width="0.8"/>
<circle cx="139.6" cy="240.04" r="0.9" fill="#111" stroke="none" stroke-width="0.8"/>
<circle cx="141.6" cy="241.34" r="0.9" fill="#111" stroke="none" stroke-width="0.8"/>
<rect x="146.9" y="239" width="6.8" height="5.2" fill="#3ca0dc" stroke="#3ca0dc" stroke-width="0.5"/>
<line x1="150.3" y1="233.54" x2="150.3" y2="242.25" stroke="#231f20" stroke-width="0.7"/>
<line x1="148.7" y1="233.54" x2="151.9" y2="233.54" stroke="#231f20" stroke-width="0.7"/>
<line x1="148.7" y1="242.25" x2="151.9" y2="242.25" stroke="#231f20" stroke-width="0.7"/>
<circle cx="150.3" cy="234.06" r="0.9" fill="#111" stroke="none" stroke-width="0.8"/>
<circle cx="149.3" cy="240.3" r="0.9" fill="#111" stroke="none" stroke-width="0.8"/>
<circle cx="151.3" cy="242.38" r="0.9" fill="#111" stroke="none" stroke-width="0.8"/>
<text x="57.27" y="255.93" font-size="7.3" text-anchor="start" fill="#231f20" font-weight="normal" textLength="12.1" lengthAdjust="spacingAndGlyphs" stroke="#231f20" stroke-width="0.15">PAS</text>
<text x="69.07" y="257.73" font-size="4.2" text-anchor="start" fill="#231f20" font-weight="normal" textLength="6.66" lengthAdjust="spacingAndGlyphs" stroke="#231f20" stroke-width="0.15">100</text>
<text x="92.81" y="255.93" font-size="7.3" text-anchor="start" fill="#231f20" font-weight="normal" textLength="12.1" lengthAdjust="spacingAndGlyphs" stroke="#231f20" stroke-width="0.15">PAS</text>
<text x="104.61" y="257.73" font-size="4.2" text-anchor="start" fill="#231f20" font-weight="normal" textLength="9.98" lengthAdjust="spacingAndGlyphs" stroke="#231f20" stroke-width="0.15">70:30</text>
<text x="140.6" y="255.83" font-size="7.3" text-anchor="middle" fill="#231f20" font-weight="normal" textLength="19.7" lengthAdjust="spacingAndGlyphs" stroke="#231f20" stroke-width="0.15">Plasma</text>
<rect x="42.2" y="263" width="5.6" height="5.6" fill="#3aaa3a" stroke="none" stroke-width="0.8"/>
<text x="50.6" y="268.43" font-size="7.3" text-anchor="start" fill="#231f20" font-weight="normal" textLength="22.2" lengthAdjust="spacingAndGlyphs" stroke="#231f20" stroke-width="0.15">No LNP</text>
<rect x="80.2" y="263" width="5.6" height="5.6" fill="#c8102e" stroke="none" stroke-width="0.8"/>
<text x="88.6" y="268.43" font-size="7.3" text-anchor="start" fill="#231f20" font-weight="normal" textLength="28.9" lengthAdjust="spacingAndGlyphs" stroke="#231f20" stroke-width="0.15">ALC-0315</text>
<rect x="124.6" y="263" width="5.6" height="5.6" fill="#3ca0dc" stroke="none" stroke-width="0.8"/>
<text x="133" y="268.43" font-size="7.3" text-anchor="start" fill="#231f20" font-weight="normal" textLength="24.7" lengthAdjust="spacingAndGlyphs" stroke="#231f20" stroke-width="0.15">NTX-001</text>
<text transform="translate(18.1,208.6) rotate(-90)" x="0" y="2.41" font-size="7.3" text-anchor="middle" fill="#231f20" stroke="#231f20" stroke-width="0.15" textLength="58.7" lengthAdjust="spacingAndGlyphs">NanoLuc expression:</text>
<text transform="translate(28.9,206.6) rotate(-90)" x="0" y="2.41" font-size="7.3" text-anchor="middle" fill="#231f20" stroke="#231f20" stroke-width="0.15" textLength="65" lengthAdjust="spacingAndGlyphs">relative luminescence</text>
<text x="180.2" y="128.6" font-size="11.6" text-anchor="start" fill="#000" font-weight="bold" textLength="7.2" lengthAdjust="spacingAndGlyphs">C</text>
<line x1="213" y1="169.5" x2="213" y2="244.9" stroke="#151515" stroke-width="1.2"/>
<line x1="321.1" y1="169.5" x2="321.1" y2="244.9" stroke="#151515" stroke-width="1.2"/>
<line x1="212.4" y1="244.3" x2="321.7" y2="244.3" stroke="#151515" stroke-width="1.2"/>
<line x1="210.1" y1="172.2" x2="213" y2="172.2" stroke="#151515" stroke-width="0.95"/>
<text x="207.6" y="174.4" font-size="6.1" text-anchor="end" fill="#231f20" font-weight="normal" stroke="#231f20" stroke-width="0.15">4500</text>
<line x1="210.1" y1="186.62" x2="213" y2="186.62" stroke="#151515" stroke-width="0.95"/>
<text x="207.6" y="188.82" font-size="6.1" text-anchor="end" fill="#231f20" font-weight="normal" stroke="#231f20" stroke-width="0.15">3600</text>
<line x1="210.1" y1="201.04" x2="213" y2="201.04" stroke="#151515" stroke-width="0.95"/>
<text x="207.6" y="203.24" font-size="6.1" text-anchor="end" fill="#231f20" font-weight="normal" stroke="#231f20" stroke-width="0.15">2700</text>
<line x1="210.1" y1="215.46" x2="213" y2="215.46" stroke="#151515" stroke-width="0.95"/>
<text x="207.6" y="217.66" font-size="6.1" text-anchor="end" fill="#231f20" font-weight="normal" stroke="#231f20" stroke-width="0.15">1800</text>
<line x1="210.1" y1="229.88" x2="213" y2="229.88" stroke="#151515" stroke-width="0.95"/>
<text x="207.6" y="232.08" font-size="6.1" text-anchor="end" fill="#231f20" font-weight="normal" stroke="#231f20" stroke-width="0.15">900</text>
<line x1="210.1" y1="244.3" x2="213" y2="244.3" stroke="#151515" stroke-width="0.95"/>
<text x="207.6" y="246.5" font-size="6.1" text-anchor="end" fill="#231f20" font-weight="normal" stroke="#231f20" stroke-width="0.15">0</text>
<line x1="211" y1="179.41" x2="213" y2="179.41" stroke="#151515" stroke-width="0.81"/>
<line x1="211" y1="193.83" x2="213" y2="193.83" stroke="#151515" stroke-width="0.81"/>
<line x1="211" y1="208.25" x2="213" y2="208.25" stroke="#151515" stroke-width="0.81"/>
<line x1="211" y1="222.67" x2="213" y2="222.67" stroke="#151515" stroke-width="0.81"/>
<line x1="211" y1="237.09" x2="213" y2="237.09" stroke="#151515" stroke-width="0.81"/>
<line x1="321.1" y1="172.2" x2="324" y2="172.2" stroke="#151515" stroke-width="0.95"/>
<text x="327" y="174.4" font-size="6.1" text-anchor="start" fill="#231f20" font-weight="normal" stroke="#231f20" stroke-width="0.15">60</text>
<line x1="321.1" y1="196.23" x2="324" y2="196.23" stroke="#151515" stroke-width="0.95"/>
<text x="327" y="198.43" font-size="6.1" text-anchor="start" fill="#231f20" font-weight="normal" stroke="#231f20" stroke-width="0.15">40</text>
<line x1="321.1" y1="220.27" x2="324" y2="220.27" stroke="#151515" stroke-width="0.95"/>
<text x="327" y="222.46" font-size="6.1" text-anchor="start" fill="#231f20" font-weight="normal" stroke="#231f20" stroke-width="0.15">20</text>
<line x1="321.1" y1="244.3" x2="324" y2="244.3" stroke="#151515" stroke-width="0.95"/>
<text x="327" y="246.5" font-size="6.1" text-anchor="start" fill="#231f20" font-weight="normal" stroke="#231f20" stroke-width="0.15">0</text>
<line x1="321.1" y1="184.22" x2="323.1" y2="184.22" stroke="#151515" stroke-width="0.81"/>
<line x1="321.1" y1="208.25" x2="323.1" y2="208.25" stroke="#151515" stroke-width="0.81"/>
<line x1="321.1" y1="232.28" x2="323.1" y2="232.28" stroke="#151515" stroke-width="0.81"/>
<line x1="229.8" y1="244.3" x2="229.8" y2="246.8" stroke="#231f20" stroke-width="0.8"/>
<line x1="267" y1="244.3" x2="267" y2="246.8" stroke="#231f20" stroke-width="0.8"/>
<line x1="304.2" y1="244.3" x2="304.2" y2="246.8" stroke="#231f20" stroke-width="0.8"/>
<rect x="215.9" y="205.85" width="7" height="38.45" fill="#3aaa3a" stroke="#3aaa3a" stroke-width="0.5"/>
<rect x="253.4" y="239.17" width="7" height="5.13" fill="#3aaa3a" stroke="#3aaa3a" stroke-width="0.5"/>
<rect x="290.6" y="239.01" width="7" height="5.29" fill="#3aaa3a" stroke="#3aaa3a" stroke-width="0.5"/>
<rect x="226.3" y="212.26" width="7" height="32.04" fill="#c8102e" stroke="#c8102e" stroke-width="0.5"/>
<rect x="263.3" y="240.61" width="7" height="3.69" fill="#c8102e" stroke="#c8102e" stroke-width="0.5"/>
<rect x="300.7" y="240.45" width="7" height="3.85" fill="#c8102e" stroke="#c8102e" stroke-width="0.5"/>
<rect x="236.6" y="214.66" width="7" height="29.64" fill="#3ca0dc" stroke="#3ca0dc" stroke-width="0.5"/>
<rect x="273.6" y="239.81" width="7" height="4.49" fill="#3ca0dc" stroke="#3ca0dc" stroke-width="0.5"/>
<rect x="310.8" y="239.81" width="7" height="4.49" fill="#3ca0dc" stroke="#3ca0dc" stroke-width="0.5"/>
<line x1="219.4" y1="198.64" x2="219.4" y2="213.86" stroke="#231f20" stroke-width="0.7"/>
<line x1="217.8" y1="198.64" x2="221" y2="198.64" stroke="#231f20" stroke-width="0.7"/>
<line x1="217.8" y1="213.86" x2="221" y2="213.86" stroke="#231f20" stroke-width="0.7"/>
<line x1="229.8" y1="209.85" x2="229.8" y2="214.66" stroke="#231f20" stroke-width="0.7"/>
<line x1="228.2" y1="209.85" x2="231.4" y2="209.85" stroke="#231f20" stroke-width="0.7"/>
<line x1="228.2" y1="214.66" x2="231.4" y2="214.66" stroke="#231f20" stroke-width="0.7"/>
<line x1="240.1" y1="209.05" x2="240.1" y2="219.47" stroke="#231f20" stroke-width="0.7"/>
<line x1="238.5" y1="209.05" x2="241.7" y2="209.05" stroke="#231f20" stroke-width="0.7"/>
<line x1="238.5" y1="219.47" x2="241.7" y2="219.47" stroke="#231f20" stroke-width="0.7"/>
<circle cx="219.4" cy="194.63" r="0.9" fill="#111" stroke="none" stroke-width="0.8"/>
<circle cx="219.4" cy="205.85" r="0.9" fill="#111" stroke="none" stroke-width="0.8"/>
<circle cx="219.4" cy="217.06" r="0.9" fill="#111" stroke="none" stroke-width="0.8"/>
<circle cx="227.9" cy="208.09" r="0.9" fill="#111" stroke="none" stroke-width="0.8"/>
<circle cx="231.3" cy="208.09" r="0.9" fill="#111" stroke="none" stroke-width="0.8"/>
<circle cx="229.8" cy="220.27" r="0.9" fill="#111" stroke="none" stroke-width="0.8"/>
<circle cx="240.1" cy="204.24" r="0.9" fill="#111" stroke="none" stroke-width="0.8"/>
<circle cx="240.1" cy="213.86" r="0.9" fill="#111" stroke="none" stroke-width="0.8"/>
<circle cx="240.6" cy="223.47" r="0.9" fill="#111" stroke="none" stroke-width="0.8"/>
<circle cx="255.7" cy="238.87" r="0.8" fill="#111" stroke="none" stroke-width="0.8"/>
<circle cx="258.1" cy="238.87" r="0.8" fill="#111" stroke="none" stroke-width="0.8"/>
<circle cx="256.9" cy="239.97" r="0.7" fill="#111" stroke="none" stroke-width="0.8"/>
<circle cx="265.6" cy="240.31" r="0.8" fill="#111" stroke="none" stroke-width="0.8"/>
<circle cx="268" cy="240.31" r="0.8" fill="#111" stroke="none" stroke-width="0.8"/>
<circle cx="266.8" cy="241.41" r="0.7" fill="#111" stroke="none" stroke-width="0.8"/>
<circle cx="275.9" cy="239.51" r="0.8" fill="#111" stroke="none" stroke-width="0.8"/>
<circle cx="278.3" cy="239.51" r="0.8" fill="#111" stroke="none" stroke-width="0.8"/>
<circle cx="277.1" cy="240.61" r="0.7" fill="#111" stroke="none" stroke-width="0.8"/>
<circle cx="292.9" cy="238.71" r="0.8" fill="#111" stroke="none" stroke-width="0.8"/>
<circle cx="295.3" cy="238.71" r="0.8" fill="#111" stroke="none" stroke-width="0.8"/>
<circle cx="294.1" cy="239.81" r="0.7" fill="#111" stroke="none" stroke-width="0.8"/>
<circle cx="303" cy="240.15" r="0.8" fill="#111" stroke="none" stroke-width="0.8"/>
<circle cx="305.4" cy="240.15" r="0.8" fill="#111" stroke="none" stroke-width="0.8"/>
<circle cx="304.2" cy="241.25" r="0.7" fill="#111" stroke="none" stroke-width="0.8"/>
<circle cx="313.1" cy="239.51" r="0.8" fill="#111" stroke="none" stroke-width="0.8"/>
<circle cx="315.5" cy="239.51" r="0.8" fill="#111" stroke="none" stroke-width="0.8"/>
<circle cx="314.3" cy="240.61" r="0.7" fill="#111" stroke="none" stroke-width="0.8"/>
<line x1="219.4" y1="178.9" x2="219.4" y2="190.3" stroke="#4a4a4a" stroke-width="0.6"/>
<line x1="218" y1="178.9" x2="220.8" y2="178.9" stroke="#4a4a4a" stroke-width="0.6"/>
<line x1="218" y1="190.3" x2="220.8" y2="190.3" stroke="#4a4a4a" stroke-width="0.6"/>
<circle cx="219.4" cy="184.6" r="1.75" fill="#d4b47c" stroke="#6a5232" stroke-width="0.8"/>
<line x1="229.6" y1="185.7" x2="229.6" y2="194.3" stroke="#4a4a4a" stroke-width="0.6"/>
<line x1="228.2" y1="185.7" x2="231" y2="185.7" stroke="#4a4a4a" stroke-width="0.6"/>
<line x1="228.2" y1="194.3" x2="231" y2="194.3" stroke="#4a4a4a" stroke-width="0.6"/>
<circle cx="229.6" cy="190" r="1.75" fill="#d4b47c" stroke="#6a5232" stroke-width="0.8"/>
<line x1="240" y1="187.4" x2="240" y2="198.2" stroke="#4a4a4a" stroke-width="0.6"/>
<line x1="238.6" y1="187.4" x2="241.4" y2="187.4" stroke="#4a4a4a" stroke-width="0.6"/>
<line x1="238.6" y1="198.2" x2="241.4" y2="198.2" stroke="#4a4a4a" stroke-width="0.6"/>
<circle cx="240" cy="192.8" r="1.75" fill="#d4b47c" stroke="#6a5232" stroke-width="0.8"/>
<circle cx="256.9" cy="233.1" r="1.75" fill="#d4b47c" stroke="#6a5232" stroke-width="0.8"/>
<circle cx="267" cy="237.3" r="1.75" fill="#d4b47c" stroke="#6a5232" stroke-width="0.8"/>
<circle cx="277.2" cy="237" r="1.75" fill="#d4b47c" stroke="#6a5232" stroke-width="0.8"/>
<line x1="293.7" y1="228.8" x2="293.7" y2="231.2" stroke="#4a4a4a" stroke-width="0.6"/>
<line x1="292.3" y1="228.8" x2="295.1" y2="228.8" stroke="#4a4a4a" stroke-width="0.6"/>
<line x1="292.3" y1="231.2" x2="295.1" y2="231.2" stroke="#4a4a4a" stroke-width="0.6"/>
<circle cx="293.7" cy="230" r="1.75" fill="#d4b47c" stroke="#6a5232" stroke-width="0.8"/>
<circle cx="303.9" cy="237.9" r="1.75" fill="#d4b47c" stroke="#6a5232" stroke-width="0.8"/>
<circle cx="314" cy="235.1" r="1.75" fill="#d4b47c" stroke="#6a5232" stroke-width="0.8"/>
<line x1="217.9" y1="174.2" x2="243.5" y2="174.2" stroke="#555" stroke-width="0.7"/>
<text x="231" y="171.12" font-size="7.3" text-anchor="middle" fill="#231f20" font-weight="normal" textLength="6.63" lengthAdjust="spacingAndGlyphs" stroke="#231f20" stroke-width="0.15">ns</text>
<line x1="217.9" y1="165.2" x2="243.5" y2="165.2" stroke="#555" stroke-width="0.7"/>
<line x1="230.4" y1="165.2" x2="230.4" y2="158.5" stroke="#555" stroke-width="0.7"/>
<line x1="230.4" y1="158.5" x2="273.3" y2="158.5" stroke="#555" stroke-width="0.7"/>
<line x1="273.3" y1="158.5" x2="273.3" y2="214.9" stroke="#555" stroke-width="0.7"/>
<line x1="254.4" y1="214.9" x2="316.4" y2="214.9" stroke="#555" stroke-width="0.7"/>
<line x1="247.88" y1="154.35" x2="247.88" y2="156.45" stroke="#333" stroke-width="0.55"/>
<line x1="246.97" y1="154.88" x2="248.78" y2="155.93" stroke="#333" stroke-width="0.55"/>
<line x1="246.97" y1="155.93" x2="248.78" y2="154.88" stroke="#333" stroke-width="0.55"/>
<line x1="250.62" y1="154.35" x2="250.62" y2="156.45" stroke="#333" stroke-width="0.55"/>
<line x1="249.72" y1="154.88" x2="251.53" y2="155.93" stroke="#333" stroke-width="0.55"/>
<line x1="249.72" y1="155.93" x2="251.53" y2="154.88" stroke="#333" stroke-width="0.55"/>
<line x1="253.38" y1="154.35" x2="253.38" y2="156.45" stroke="#333" stroke-width="0.55"/>
<line x1="252.47" y1="154.88" x2="254.28" y2="155.93" stroke="#333" stroke-width="0.55"/>
<line x1="252.47" y1="155.93" x2="254.28" y2="154.88" stroke="#333" stroke-width="0.55"/>
<line x1="256.12" y1="154.35" x2="256.12" y2="156.45" stroke="#333" stroke-width="0.55"/>
<line x1="255.22" y1="154.88" x2="257.03" y2="155.93" stroke="#333" stroke-width="0.55"/>
<line x1="255.22" y1="155.93" x2="257.03" y2="154.88" stroke="#333" stroke-width="0.55"/>
<text x="267.6" y="221.72" font-size="7.3" text-anchor="middle" fill="#231f20" font-weight="normal" textLength="6.63" lengthAdjust="spacingAndGlyphs" stroke="#231f20" stroke-width="0.15">ns</text>
<line x1="254.7" y1="224.4" x2="279.6" y2="224.4" stroke="#555" stroke-width="0.7"/>
<text x="304.4" y="221.72" font-size="7.3" text-anchor="middle" fill="#231f20" font-weight="normal" textLength="6.63" lengthAdjust="spacingAndGlyphs" stroke="#231f20" stroke-width="0.15">ns</text>
<line x1="292" y1="224.4" x2="316.4" y2="224.4" stroke="#555" stroke-width="0.7"/>
<text x="220.67" y="255.93" font-size="7.3" text-anchor="start" fill="#231f20" font-weight="normal" textLength="12.1" lengthAdjust="spacingAndGlyphs" stroke="#231f20" stroke-width="0.15">PAS</text>
<text x="232.47" y="257.73" font-size="4.2" text-anchor="start" fill="#231f20" font-weight="normal" textLength="6.66" lengthAdjust="spacingAndGlyphs" stroke="#231f20" stroke-width="0.15">100</text>
<text x="255.91" y="255.93" font-size="7.3" text-anchor="start" fill="#231f20" font-weight="normal" textLength="12.1" lengthAdjust="spacingAndGlyphs" stroke="#231f20" stroke-width="0.15">PAS</text>
<text x="267.71" y="257.73" font-size="4.2" text-anchor="start" fill="#231f20" font-weight="normal" textLength="9.98" lengthAdjust="spacingAndGlyphs" stroke="#231f20" stroke-width="0.15">70:30</text>
<text x="303.7" y="255.83" font-size="7.3" text-anchor="middle" fill="#231f20" font-weight="normal" textLength="19.9" lengthAdjust="spacingAndGlyphs" stroke="#231f20" stroke-width="0.15">Plasma</text>
<rect x="206" y="262.8" width="5.6" height="5.6" fill="#3aaa3a" stroke="none" stroke-width="0.8"/>
<text x="214.4" y="268.23" font-size="7.3" text-anchor="start" fill="#231f20" font-weight="normal" textLength="21.9" lengthAdjust="spacingAndGlyphs" stroke="#231f20" stroke-width="0.15">No LNP</text>
<rect x="243.2" y="262.8" width="5.6" height="5.6" fill="#c8102e" stroke="none" stroke-width="0.8"/>
<text x="251.6" y="268.23" font-size="7.3" text-anchor="start" fill="#231f20" font-weight="normal" textLength="27.6" lengthAdjust="spacingAndGlyphs" stroke="#231f20" stroke-width="0.15">ALC-0315</text>
<rect x="288.2" y="262.8" width="5.6" height="5.6" fill="#3ca0dc" stroke="none" stroke-width="0.8"/>
<text x="296.6" y="268.23" font-size="7.3" text-anchor="start" fill="#231f20" font-weight="normal" textLength="23.9" lengthAdjust="spacingAndGlyphs" stroke="#231f20" stroke-width="0.15">NTX-001</text>
<text transform="translate(184.4,207.4) rotate(-90)" x="0" y="2.41" font-size="7.3" text-anchor="middle" fill="#231f20" stroke="#231f20" stroke-width="0.15" textLength="89.9" lengthAdjust="spacingAndGlyphs">Platelet activation: CD62P MFI</text>
<text transform="translate(343,208.6) rotate(90)" x="0" y="2.41" font-size="7.3" text-anchor="middle" fill="#e0a040" stroke="#e0a040" stroke-width="0.15" textLength="64.6" lengthAdjust="spacingAndGlyphs">CD62P<tspan font-size="4" dy="-2">+</tspan><tspan dy="2"> platelets (%)</tspan></text>
<text x="367" y="127.6" font-size="11.6" text-anchor="start" fill="#000" font-weight="bold" textLength="7.2" lengthAdjust="spacingAndGlyphs">D</text>
<clipPath id="cD0"><rect x="390.6" y="134" width="122.1" height="30.5"/></clipPath><g clip-path="url(#cD0)">
<line x1="390.6" y1="149.4" x2="512.7" y2="149.4" stroke="#9cc6e6" stroke-width="0.6"/>
<line x1="390.6" y1="157" x2="512.7" y2="157" stroke="#9cc6e6" stroke-width="0.6"/>
<path d="M385,149.4 C388.17,149.35 400,149.52 404,149.1 C408,148.68 407.33,148.35 409,146.9 C410.67,145.45 412.42,142.15 414,140.4 C415.58,138.65 417.33,137.1 418.5,136.4 C419.67,135.7 419.83,135.73 421,136.2 C422.17,136.67 424,138.62 425.5,139.2 C427,139.78 428.08,139.58 430,139.7 C431.92,139.82 434.5,139.92 437,139.9 C439.5,139.88 442.5,139.72 445,139.6 C447.5,139.48 450.17,139.2 452,139.2 C453.83,139.2 454.42,139.1 456,139.6 C457.58,140.1 459.37,141.17 461.5,142.2 C463.63,143.23 466.38,144.85 468.8,145.8 C471.22,146.75 473.83,147.35 476,147.9 C478.17,148.45 477.8,148.85 481.8,149.1 C485.8,149.35 496.97,149.35 500,149.4 Z" fill="#a3d0f0" stroke="none" stroke-width="0.8" fill-opacity="0.85"/>
<path d="M404,149.1 C404.83,148.73 407.33,148.35 409,146.9 C410.67,145.45 412.42,142.15 414,140.4 C415.58,138.65 417.33,137.1 418.5,136.4 C419.67,135.7 419.83,135.73 421,136.2 C422.17,136.67 424,138.62 425.5,139.2 C427,139.78 428.08,139.58 430,139.7 C431.92,139.82 434.5,139.92 437,139.9 C439.5,139.88 442.5,139.72 445,139.6 C447.5,139.48 450.17,139.2 452,139.2 C453.83,139.2 454.42,139.1 456,139.6 C457.58,140.1 459.37,141.17 461.5,142.2 C463.63,143.23 466.38,144.85 468.8,145.8 C471.22,146.75 473.83,147.35 476,147.9 C478.17,148.45 480.83,148.9 481.8,149.1" fill="none" stroke="#3f78a8" stroke-width="0.6"/>
<path d="M385,157 C388.33,156.93 400.83,157.27 405,156.6 C409.17,155.93 408.42,154.77 410,153 C411.58,151.23 413.2,147.7 414.5,146 C415.8,144.3 416.72,143.05 417.8,142.8 C418.88,142.55 419.8,143.38 421,144.5 C422.2,145.62 423.75,148.17 425,149.5 C426.25,150.83 427.17,151.72 428.5,152.5 C429.83,153.28 431.08,153.72 433,154.2 C434.92,154.68 437.5,155.08 440,155.4 C442.5,155.72 445,155.9 448,156.1 C451,156.3 454.67,156.47 458,156.6 C461.33,156.73 464.33,156.83 468,156.9 C471.67,156.97 478,156.98 480,157 Z" fill="#5eaee6" stroke="none" stroke-width="0.8" fill-opacity="0.6"/>
<path d="M405,156.6 C405.83,156 408.42,154.77 410,153 C411.58,151.23 413.2,147.7 414.5,146 C415.8,144.3 416.72,143.05 417.8,142.8 C418.88,142.55 419.8,143.38 421,144.5 C422.2,145.62 423.75,148.17 425,149.5 C426.25,150.83 427.17,151.72 428.5,152.5 C429.83,153.28 431.08,153.72 433,154.2 C434.92,154.68 437.5,155.08 440,155.4 C442.5,155.72 445,155.9 448,156.1 C451,156.3 454.67,156.47 458,156.6 C461.33,156.73 466.33,156.85 468,156.9" fill="none" stroke="#3f78a8" stroke-width="0.6"/>
<path d="M385,164.5 C388.5,164.45 401.75,164.9 406,164.2 C410.25,163.5 409.08,162.08 410.5,160.3 C411.92,158.52 413.28,155.07 414.5,153.5 C415.72,151.93 416.72,150.98 417.8,150.9 C418.88,150.82 419.8,151.73 421,153 C422.2,154.27 423.75,157.13 425,158.5 C426.25,159.87 427.17,160.45 428.5,161.2 C429.83,161.95 431.08,162.55 433,163 C434.92,163.45 437.5,163.68 440,163.9 C442.5,164.12 444.67,164.2 448,164.3 C451.33,164.4 458,164.47 460,164.5 Z" fill="#5eaee6" stroke="none" stroke-width="0.8" fill-opacity="0.6"/>
<path d="M406,164.2 C406.75,163.55 409.08,162.08 410.5,160.3 C411.92,158.52 413.28,155.07 414.5,153.5 C415.72,151.93 416.72,150.98 417.8,150.9 C418.88,150.82 419.8,151.73 421,153 C422.2,154.27 423.75,157.13 425,158.5 C426.25,159.87 427.17,160.45 428.5,161.2 C429.83,161.95 431.08,162.55 433,163 C434.92,163.45 437.5,163.68 440,163.9 C442.5,164.12 446.67,164.23 448,164.3" fill="none" stroke="#3f78a8" stroke-width="0.6"/>
</g>
<rect x="390.6" y="134" width="122.1" height="30.5" fill="none" stroke="#333" stroke-width="0.9"/>
<path d="M396.5,164.5v2.2M398.5,164.5v2.2M400.5,164.5v2.2M402.5,164.5v2.2M404.5,164.5v2.2M406.5,164.5v2.2M408.5,164.5v2.2M410.5,164.5v2.2M420.6,164.5v2.2M423.5,164.5v2.2M426.2,164.5v2.2M430,164.5v2.2M434.2,164.5v2.2M447.9,164.5v2.2M452.63,164.5v2.2M456,164.5v2.2M458.6,164.5v2.2M460.73,164.5v2.2M462.53,164.5v2.2M464.09,164.5v2.2M465.47,164.5v2.2M474.8,164.5v2.2M479.53,164.5v2.2M482.9,164.5v2.2M485.5,164.5v2.2M487.63,164.5v2.2M489.43,164.5v2.2M490.99,164.5v2.2M492.37,164.5v2.2M501.7,164.5v2.2M506.43,164.5v2.2M509.8,164.5v2.2M417.7,164.5v3.2M439.8,164.5v3.2M466.7,164.5v3.2M493.6,164.5v3.2" fill="none" stroke="#1a1a1a" stroke-width="0.65"/>
<rect x="412.6" y="164.5" width="5.4" height="1.9" fill="#2a2a2a" stroke="none" stroke-width="0.8"/>
<text x="481.5" y="140.93" font-size="7.3" text-anchor="start" fill="#5bb8e0" font-weight="normal" textLength="24.6" lengthAdjust="spacingAndGlyphs" stroke="#5bb8e0" stroke-width="0.15">NTX-001</text>
<text x="481.5" y="146.2" font-size="7.3" text-anchor="start" fill="#231f20" font-weight="normal" textLength="10.8" lengthAdjust="spacingAndGlyphs" stroke="#231f20" stroke-width="0.15">PAS</text>
<text x="492.4" y="148.2" font-size="4" text-anchor="start" fill="#231f20" font-weight="normal" textLength="6.6" lengthAdjust="spacingAndGlyphs" stroke="#231f20" stroke-width="0.15">100</text>
<text x="481.5" y="154.1" font-size="7.3" text-anchor="start" fill="#231f20" font-weight="normal" textLength="10.8" lengthAdjust="spacingAndGlyphs" stroke="#231f20" stroke-width="0.15">PAS</text>
<text x="492.4" y="156.2" font-size="4" text-anchor="start" fill="#231f20" font-weight="normal" textLength="11" lengthAdjust="spacingAndGlyphs" stroke="#231f20" stroke-width="0.15">70:30</text>
<text x="481.5" y="163.63" font-size="7.3" text-anchor="start" fill="#231f20" font-weight="normal" textLength="19.9" lengthAdjust="spacingAndGlyphs" stroke="#231f20" stroke-width="0.15">Plasma</text>
<clipPath id="cD1"><rect x="390.6" y="174" width="122.1" height="30.5"/></clipPath><g clip-path="url(#cD1)">
<line x1="390.6" y1="189.4" x2="512.7" y2="189.4" stroke="#e59aa0" stroke-width="0.6"/>
<line x1="390.6" y1="197" x2="512.7" y2="197" stroke="#e59aa0" stroke-width="0.6"/>
<path d="M385,189.4 C388.17,189.35 400,189.57 404,189.1 C408,188.63 407.33,188.13 409,186.6 C410.67,185.07 412.42,181.67 414,179.9 C415.58,178.13 417.25,176.68 418.5,176 C419.75,175.32 420.25,175.3 421.5,175.8 C422.75,176.3 424.58,178.4 426,179 C427.42,179.6 428,179.47 430,179.4 C432,179.33 435.05,178.92 438,178.6 C440.95,178.28 444.8,177.62 447.7,177.5 C450.6,177.38 453.18,177.42 455.4,177.9 C457.62,178.38 459.08,179.6 461,180.4 C462.92,181.2 464.63,181.68 466.9,182.7 C469.17,183.72 472.35,185.47 474.6,186.5 C476.85,187.53 476.17,188.42 480.4,188.9 C484.63,189.38 496.73,189.32 500,189.4 Z" fill="#e5877c" stroke="none" stroke-width="0.8" fill-opacity="0.9"/>
<path d="M404,189.1 C404.83,188.68 407.33,188.13 409,186.6 C410.67,185.07 412.42,181.67 414,179.9 C415.58,178.13 417.25,176.68 418.5,176 C419.75,175.32 420.25,175.3 421.5,175.8 C422.75,176.3 424.58,178.4 426,179 C427.42,179.6 428,179.47 430,179.4 C432,179.33 435.05,178.92 438,178.6 C440.95,178.28 444.8,177.62 447.7,177.5 C450.6,177.38 453.18,177.42 455.4,177.9 C457.62,178.38 459.08,179.6 461,180.4 C462.92,181.2 464.63,181.68 466.9,182.7 C469.17,183.72 472.35,185.47 474.6,186.5 C476.85,187.53 479.43,188.5 480.4,188.9" fill="none" stroke="#9a2a2a" stroke-width="0.6"/>
<path d="M385,197 C388.33,196.93 400.83,197.27 405,196.6 C409.17,195.93 408.42,194.77 410,193 C411.58,191.23 413.2,187.7 414.5,186 C415.8,184.3 416.72,183.05 417.8,182.8 C418.88,182.55 419.8,183.38 421,184.5 C422.2,185.62 423.75,188.17 425,189.5 C426.25,190.83 427.17,191.72 428.5,192.5 C429.83,193.28 431.08,193.72 433,194.2 C434.92,194.68 437.5,195.08 440,195.4 C442.5,195.72 445,195.9 448,196.1 C451,196.3 454.67,196.47 458,196.6 C461.33,196.73 464.33,196.83 468,196.9 C471.67,196.97 478,196.98 480,197 Z" fill="#d9534a" stroke="none" stroke-width="0.8" fill-opacity="0.6"/>
<path d="M405,196.6 C405.83,196 408.42,194.77 410,193 C411.58,191.23 413.2,187.7 414.5,186 C415.8,184.3 416.72,183.05 417.8,182.8 C418.88,182.55 419.8,183.38 421,184.5 C422.2,185.62 423.75,188.17 425,189.5 C426.25,190.83 427.17,191.72 428.5,192.5 C429.83,193.28 431.08,193.72 433,194.2 C434.92,194.68 437.5,195.08 440,195.4 C442.5,195.72 445,195.9 448,196.1 C451,196.3 454.67,196.47 458,196.6 C461.33,196.73 466.33,196.85 468,196.9" fill="none" stroke="#9a2a2a" stroke-width="0.6"/>
<path d="M385,204.5 C388.5,204.45 401.75,204.9 406,204.2 C410.25,203.5 409.08,202.08 410.5,200.3 C411.92,198.52 413.28,195.07 414.5,193.5 C415.72,191.93 416.72,190.98 417.8,190.9 C418.88,190.82 419.8,191.73 421,193 C422.2,194.27 423.75,197.13 425,198.5 C426.25,199.87 427.17,200.45 428.5,201.2 C429.83,201.95 431.08,202.55 433,203 C434.92,203.45 437.5,203.68 440,203.9 C442.5,204.12 444.67,204.2 448,204.3 C451.33,204.4 458,204.47 460,204.5 Z" fill="#d9534a" stroke="none" stroke-width="0.8" fill-opacity="0.6"/>
<path d="M406,204.2 C406.75,203.55 409.08,202.08 410.5,200.3 C411.92,198.52 413.28,195.07 414.5,193.5 C415.72,191.93 416.72,190.98 417.8,190.9 C418.88,190.82 419.8,191.73 421,193 C422.2,194.27 423.75,197.13 425,198.5 C426.25,199.87 427.17,200.45 428.5,201.2 C429.83,201.95 431.08,202.55 433,203 C434.92,203.45 437.5,203.68 440,203.9 C442.5,204.12 446.67,204.23 448,204.3" fill="none" stroke="#9a2a2a" stroke-width="0.6"/>
</g>
<rect x="390.6" y="174" width="122.1" height="30.5" fill="none" stroke="#333" stroke-width="0.9"/>
<path d="M396.5,204.5v2.2M398.5,204.5v2.2M400.5,204.5v2.2M402.5,204.5v2.2M404.5,204.5v2.2M406.5,204.5v2.2M408.5,204.5v2.2M410.5,204.5v2.2M420.6,204.5v2.2M423.5,204.5v2.2M426.2,204.5v2.2M430,204.5v2.2M434.2,204.5v2.2M447.9,204.5v2.2M452.63,204.5v2.2M456,204.5v2.2M458.6,204.5v2.2M460.73,204.5v2.2M462.53,204.5v2.2M464.09,204.5v2.2M465.47,204.5v2.2M474.8,204.5v2.2M479.53,204.5v2.2M482.9,204.5v2.2M485.5,204.5v2.2M487.63,204.5v2.2M489.43,204.5v2.2M490.99,204.5v2.2M492.37,204.5v2.2M501.7,204.5v2.2M506.43,204.5v2.2M509.8,204.5v2.2M417.7,204.5v3.2M439.8,204.5v3.2M466.7,204.5v3.2M493.6,204.5v3.2" fill="none" stroke="#1a1a1a" stroke-width="0.65"/>
<rect x="412.6" y="204.5" width="5.4" height="1.9" fill="#2a2a2a" stroke="none" stroke-width="0.8"/>
<text x="481.5" y="180.93" font-size="7.3" text-anchor="start" fill="#cc3a55" font-weight="normal" textLength="28" lengthAdjust="spacingAndGlyphs" stroke="#cc3a55" stroke-width="0.15">ALC-0315</text>
<text x="481.5" y="186.2" font-size="7.3" text-anchor="start" fill="#231f20" font-weight="normal" textLength="10.8" lengthAdjust="spacingAndGlyphs" stroke="#231f20" stroke-width="0.15">PAS</text>
<text x="492.4" y="188.2" font-size="4" text-anchor="start" fill="#231f20" font-weight="normal" textLength="6.6" lengthAdjust="spacingAndGlyphs" stroke="#231f20" stroke-width="0.15">100</text>
<text x="481.5" y="194.1" font-size="7.3" text-anchor="start" fill="#231f20" font-weight="normal" textLength="10.8" lengthAdjust="spacingAndGlyphs" stroke="#231f20" stroke-width="0.15">PAS</text>
<text x="492.4" y="196.2" font-size="4" text-anchor="start" fill="#231f20" font-weight="normal" textLength="11" lengthAdjust="spacingAndGlyphs" stroke="#231f20" stroke-width="0.15">70:30</text>
<text x="481.5" y="203.63" font-size="7.3" text-anchor="start" fill="#231f20" font-weight="normal" textLength="19.9" lengthAdjust="spacingAndGlyphs" stroke="#231f20" stroke-width="0.15">Plasma</text>
<clipPath id="cD2"><rect x="390.6" y="214" width="122.1" height="30.5"/></clipPath><g clip-path="url(#cD2)">
<line x1="390.6" y1="229.4" x2="512.7" y2="229.4" stroke="#a6d6a2" stroke-width="0.6"/>
<line x1="390.6" y1="237" x2="512.7" y2="237" stroke="#a6d6a2" stroke-width="0.6"/>
<path d="M385,229.4 C388.17,229.35 400,229.57 404,229.1 C408,228.63 407.33,228.13 409,226.6 C410.67,225.07 412.37,221.55 414,219.9 C415.63,218.25 417.47,217.15 418.8,216.7 C420.13,216.25 420.38,216.68 422,217.2 C423.62,217.72 426.33,219.47 428.5,219.8 C430.67,220.13 432.92,219.47 435,219.2 C437.08,218.93 438.88,218.62 441,218.2 C443.12,217.78 445.37,216.95 447.7,216.7 C450.03,216.45 453.03,216.42 455,216.7 C456.97,216.98 457.52,217.5 459.5,218.4 C461.48,219.3 464.07,220.68 466.9,222.1 C469.73,223.52 474.25,225.78 476.5,226.9 C478.75,228.02 476.48,228.38 480.4,228.8 C484.32,229.22 496.73,229.3 500,229.4 Z" fill="#99d194" stroke="none" stroke-width="0.8" fill-opacity="0.85"/>
<path d="M404,229.1 C404.83,228.68 407.33,228.13 409,226.6 C410.67,225.07 412.37,221.55 414,219.9 C415.63,218.25 417.47,217.15 418.8,216.7 C420.13,216.25 420.38,216.68 422,217.2 C423.62,217.72 426.33,219.47 428.5,219.8 C430.67,220.13 432.92,219.47 435,219.2 C437.08,218.93 438.88,218.62 441,218.2 C443.12,217.78 445.37,216.95 447.7,216.7 C450.03,216.45 453.03,216.42 455,216.7 C456.97,216.98 457.52,217.5 459.5,218.4 C461.48,219.3 464.07,220.68 466.9,222.1 C469.73,223.52 474.25,225.78 476.5,226.9 C478.75,228.02 479.75,228.48 480.4,228.8" fill="none" stroke="#3d7f3d" stroke-width="0.6"/>
<path d="M385,237 C388.33,236.93 400.83,237.27 405,236.6 C409.17,235.93 408.42,234.6 410,233 C411.58,231.4 413.2,228.42 414.5,227 C415.8,225.58 416.72,224.67 417.8,224.5 C418.88,224.33 419.8,225 421,226 C422.2,227 423.75,229.42 425,230.5 C426.25,231.58 426.83,231.92 428.5,232.5 C430.17,233.08 432.25,233.58 435,234 C437.75,234.42 441.17,234.67 445,235 C448.83,235.33 453.5,235.7 458,236 C462.5,236.3 468.33,236.63 472,236.8 C475.67,236.97 478.67,236.97 480,237 Z" fill="#5fba5a" stroke="none" stroke-width="0.8" fill-opacity="0.6"/>
<path d="M405,236.6 C405.83,236 408.42,234.6 410,233 C411.58,231.4 413.2,228.42 414.5,227 C415.8,225.58 416.72,224.67 417.8,224.5 C418.88,224.33 419.8,225 421,226 C422.2,227 423.75,229.42 425,230.5 C426.25,231.58 426.83,231.92 428.5,232.5 C430.17,233.08 432.25,233.58 435,234 C437.75,234.42 441.17,234.67 445,235 C448.83,235.33 453.5,235.7 458,236 C462.5,236.3 469.67,236.67 472,236.8" fill="none" stroke="#3d7f3d" stroke-width="0.6"/>
<path d="M385,244.5 C388.5,244.45 401.75,244.9 406,244.2 C410.25,243.5 409.08,242.08 410.5,240.3 C411.92,238.52 413.28,235.07 414.5,233.5 C415.72,231.93 416.72,230.98 417.8,230.9 C418.88,230.82 419.8,231.73 421,233 C422.2,234.27 423.75,237.13 425,238.5 C426.25,239.87 427.17,240.45 428.5,241.2 C429.83,241.95 431.08,242.55 433,243 C434.92,243.45 437.5,243.68 440,243.9 C442.5,244.12 444.67,244.2 448,244.3 C451.33,244.4 458,244.47 460,244.5 Z" fill="#5fba5a" stroke="none" stroke-width="0.8" fill-opacity="0.6"/>
<path d="M406,244.2 C406.75,243.55 409.08,242.08 410.5,240.3 C411.92,238.52 413.28,235.07 414.5,233.5 C415.72,231.93 416.72,230.98 417.8,230.9 C418.88,230.82 419.8,231.73 421,233 C422.2,234.27 423.75,237.13 425,238.5 C426.25,239.87 427.17,240.45 428.5,241.2 C429.83,241.95 431.08,242.55 433,243 C434.92,243.45 437.5,243.68 440,243.9 C442.5,244.12 446.67,244.23 448,244.3" fill="none" stroke="#3d7f3d" stroke-width="0.6"/>
</g>
<rect x="390.6" y="214" width="122.1" height="30.5" fill="none" stroke="#333" stroke-width="0.9"/>
<path d="M396.5,244.5v2.2M398.5,244.5v2.2M400.5,244.5v2.2M402.5,244.5v2.2M404.5,244.5v2.2M406.5,244.5v2.2M408.5,244.5v2.2M410.5,244.5v2.2M420.6,244.5v2.2M423.5,244.5v2.2M426.2,244.5v2.2M430,244.5v2.2M434.2,244.5v2.2M447.9,244.5v2.2M452.63,244.5v2.2M456,244.5v2.2M458.6,244.5v2.2M460.73,244.5v2.2M462.53,244.5v2.2M464.09,244.5v2.2M465.47,244.5v2.2M474.8,244.5v2.2M479.53,244.5v2.2M482.9,244.5v2.2M485.5,244.5v2.2M487.63,244.5v2.2M489.43,244.5v2.2M490.99,244.5v2.2M492.37,244.5v2.2M501.7,244.5v2.2M506.43,244.5v2.2M509.8,244.5v2.2M417.7,244.5v3.2M439.8,244.5v3.2M466.7,244.5v3.2M493.6,244.5v3.2" fill="none" stroke="#1a1a1a" stroke-width="0.65"/>
<rect x="412.6" y="244.5" width="5.4" height="1.9" fill="#2a2a2a" stroke="none" stroke-width="0.8"/>
<text x="481.5" y="220.93" font-size="7.3" text-anchor="start" fill="#5cb85c" font-weight="normal" textLength="22.1" lengthAdjust="spacingAndGlyphs" stroke="#5cb85c" stroke-width="0.15">No LNP</text>
<text x="481.5" y="226.2" font-size="7.3" text-anchor="start" fill="#231f20" font-weight="normal" textLength="10.8" lengthAdjust="spacingAndGlyphs" stroke="#231f20" stroke-width="0.15">PAS</text>
<text x="492.4" y="228.2" font-size="4" text-anchor="start" fill="#231f20" font-weight="normal" textLength="6.6" lengthAdjust="spacingAndGlyphs" stroke="#231f20" stroke-width="0.15">100</text>
<text x="481.5" y="234.1" font-size="7.3" text-anchor="start" fill="#231f20" font-weight="normal" textLength="10.8" lengthAdjust="spacingAndGlyphs" stroke="#231f20" stroke-width="0.15">PAS</text>
<text x="492.4" y="236.2" font-size="4" text-anchor="start" fill="#231f20" font-weight="normal" textLength="11" lengthAdjust="spacingAndGlyphs" stroke="#231f20" stroke-width="0.15">70:30</text>
<text x="481.5" y="243.63" font-size="7.3" text-anchor="start" fill="#231f20" font-weight="normal" textLength="19.9" lengthAdjust="spacingAndGlyphs" stroke="#231f20" stroke-width="0.15">Plasma</text>
<text x="417.7" y="255.6" font-size="6.1" text-anchor="middle" fill="#231f20" font-weight="normal" stroke="#231f20" stroke-width="0.15">0</text>
<text x="463" y="255.6" font-size="6.1" text-anchor="start" fill="#231f20" font-weight="normal" stroke="#231f20" stroke-width="0.15">10</text>
<text x="469.8" y="252.6" font-size="3.9" text-anchor="start" fill="#231f20" font-weight="normal" stroke="#231f20" stroke-width="0.15">4</text>
<text x="490" y="255.6" font-size="6.1" text-anchor="start" fill="#231f20" font-weight="normal" stroke="#231f20" stroke-width="0.15">10</text>
<text x="496.8" y="252.6" font-size="3.9" text-anchor="start" fill="#231f20" font-weight="normal" stroke="#231f20" stroke-width="0.15">5</text>
<text x="451.2" y="267.03" font-size="7.3" text-anchor="middle" fill="#231f20" font-weight="normal" textLength="94.8" lengthAdjust="spacingAndGlyphs" stroke="#231f20" stroke-width="0.15">CD62P-PE fluorescence intensity</text>
<text transform="translate(371.6,189.3) rotate(-90)" x="0" y="2.41" font-size="7.3" text-anchor="middle" fill="#231f20" stroke="#231f20" stroke-width="0.15" textLength="66" lengthAdjust="spacingAndGlyphs">Relative platelet count</text>
<text transform="translate(381.9,189.3) rotate(-90)" x="0" y="2.41" font-size="7.3" text-anchor="middle" fill="#231f20" stroke="#231f20" stroke-width="0.15" textLength="60.7" lengthAdjust="spacingAndGlyphs">normalized to mode</text>
<text x="6.9" y="294.5" font-size="11.6" text-anchor="start" fill="#000" font-weight="bold" textLength="6.65" lengthAdjust="spacingAndGlyphs">E</text>
<line x1="49.8" y1="327.2" x2="49.8" y2="356" stroke="#151515" stroke-width="1.2"/>
<line x1="49.8" y1="359.8" x2="49.8" y2="402.1" stroke="#151515" stroke-width="1.2"/>
<line x1="48.2" y1="357" x2="51.4" y2="355" stroke="#231f20" stroke-width="0.8"/>
<line x1="48.2" y1="360.8" x2="51.4" y2="358.8" stroke="#231f20" stroke-width="0.8"/>
<line x1="46.9" y1="329.9" x2="49.8" y2="329.9" stroke="#151515" stroke-width="0.95"/>
<text x="42.8" y="332.1" font-size="6.1" text-anchor="end" fill="#231f20" font-weight="normal" textLength="20.2" lengthAdjust="spacingAndGlyphs" stroke="#231f20" stroke-width="0.15">360000</text>
<line x1="46.9" y1="340.35" x2="49.8" y2="340.35" stroke="#151515" stroke-width="0.95"/>
<text x="42.8" y="342.55" font-size="6.1" text-anchor="end" fill="#231f20" font-weight="normal" textLength="20.2" lengthAdjust="spacingAndGlyphs" stroke="#231f20" stroke-width="0.15">240000</text>
<line x1="46.9" y1="350.8" x2="49.8" y2="350.8" stroke="#151515" stroke-width="0.95"/>
<text x="42.8" y="353" font-size="6.1" text-anchor="end" fill="#231f20" font-weight="normal" textLength="20.2" lengthAdjust="spacingAndGlyphs" stroke="#231f20" stroke-width="0.15">120000</text>
<line x1="47.8" y1="335.12" x2="49.8" y2="335.12" stroke="#151515" stroke-width="0.81"/>
<line x1="47.8" y1="345.57" x2="49.8" y2="345.57" stroke="#151515" stroke-width="0.81"/>
<line x1="46.9" y1="362.8" x2="49.8" y2="362.8" stroke="#151515" stroke-width="0.95"/>
<text x="42.8" y="365" font-size="6.1" text-anchor="end" fill="#231f20" font-weight="normal" textLength="16.9" lengthAdjust="spacingAndGlyphs" stroke="#231f20" stroke-width="0.15">20000</text>
<line x1="46.9" y1="372.48" x2="49.8" y2="372.48" stroke="#151515" stroke-width="0.95"/>
<text x="42.8" y="374.67" font-size="6.1" text-anchor="end" fill="#231f20" font-weight="normal" textLength="16.9" lengthAdjust="spacingAndGlyphs" stroke="#231f20" stroke-width="0.15">15000</text>
<line x1="46.9" y1="382.15" x2="49.8" y2="382.15" stroke="#151515" stroke-width="0.95"/>
<text x="42.8" y="384.35" font-size="6.1" text-anchor="end" fill="#231f20" font-weight="normal" textLength="16.9" lengthAdjust="spacingAndGlyphs" stroke="#231f20" stroke-width="0.15">10000</text>
<line x1="46.9" y1="391.82" x2="49.8" y2="391.82" stroke="#151515" stroke-width="0.95"/>
<text x="42.8" y="394.02" font-size="6.1" text-anchor="end" fill="#231f20" font-weight="normal" textLength="13.5" lengthAdjust="spacingAndGlyphs" stroke="#231f20" stroke-width="0.15">5000</text>
<line x1="46.9" y1="401.5" x2="49.8" y2="401.5" stroke="#151515" stroke-width="0.95"/>
<text x="42.8" y="403.7" font-size="6.1" text-anchor="end" fill="#231f20" font-weight="normal" stroke="#231f20" stroke-width="0.15">0</text>
<line x1="47.8" y1="367.64" x2="49.8" y2="367.64" stroke="#151515" stroke-width="0.81"/>
<line x1="47.8" y1="377.31" x2="49.8" y2="377.31" stroke="#151515" stroke-width="0.81"/>
<line x1="47.8" y1="386.99" x2="49.8" y2="386.99" stroke="#151515" stroke-width="0.81"/>
<line x1="47.8" y1="396.66" x2="49.8" y2="396.66" stroke="#151515" stroke-width="0.81"/>
<line x1="157.4" y1="327" x2="157.4" y2="402.1" stroke="#151515" stroke-width="1.2"/>
<line x1="157.4" y1="329.9" x2="160.3" y2="329.9" stroke="#151515" stroke-width="0.95"/>
<text x="163.9" y="332.1" font-size="6.1" text-anchor="start" fill="#231f20" font-weight="normal" stroke="#231f20" stroke-width="0.15">100</text>
<line x1="157.4" y1="344.22" x2="160.3" y2="344.22" stroke="#151515" stroke-width="0.95"/>
<text x="163.9" y="346.42" font-size="6.1" text-anchor="start" fill="#231f20" font-weight="normal" stroke="#231f20" stroke-width="0.15">80</text>
<line x1="157.4" y1="358.54" x2="160.3" y2="358.54" stroke="#151515" stroke-width="0.95"/>
<text x="163.9" y="360.74" font-size="6.1" text-anchor="start" fill="#231f20" font-weight="normal" stroke="#231f20" stroke-width="0.15">60</text>
<line x1="157.4" y1="372.86" x2="160.3" y2="372.86" stroke="#151515" stroke-width="0.95"/>
<text x="163.9" y="375.06" font-size="6.1" text-anchor="start" fill="#231f20" font-weight="normal" stroke="#231f20" stroke-width="0.15">40</text>
<line x1="157.4" y1="387.18" x2="160.3" y2="387.18" stroke="#151515" stroke-width="0.95"/>
<text x="163.9" y="389.38" font-size="6.1" text-anchor="start" fill="#231f20" font-weight="normal" stroke="#231f20" stroke-width="0.15">20</text>
<line x1="157.4" y1="401.5" x2="160.3" y2="401.5" stroke="#151515" stroke-width="0.95"/>
<text x="163.9" y="403.7" font-size="6.1" text-anchor="start" fill="#231f20" font-weight="normal" stroke="#231f20" stroke-width="0.15">0</text>
<line x1="157.4" y1="337.06" x2="159.4" y2="337.06" stroke="#151515" stroke-width="0.81"/>
<line x1="157.4" y1="351.38" x2="159.4" y2="351.38" stroke="#151515" stroke-width="0.81"/>
<line x1="157.4" y1="365.7" x2="159.4" y2="365.7" stroke="#151515" stroke-width="0.81"/>
<line x1="157.4" y1="380.02" x2="159.4" y2="380.02" stroke="#151515" stroke-width="0.81"/>
<line x1="157.4" y1="394.34" x2="159.4" y2="394.34" stroke="#151515" stroke-width="0.81"/>
<line x1="49.2" y1="401.5" x2="158" y2="401.5" stroke="#151515" stroke-width="1.2"/>
<line x1="66.2" y1="401.5" x2="66.2" y2="404" stroke="#231f20" stroke-width="0.8"/>
<line x1="103.5" y1="401.5" x2="103.5" y2="404" stroke="#231f20" stroke-width="0.8"/>
<line x1="140.8" y1="401.5" x2="140.8" y2="404" stroke="#231f20" stroke-width="0.8"/>
<rect x="54.9" y="350.71" width="8.4" height="5.09" fill="#c8102e" stroke="#c8102e" stroke-width="0.5"/>
<rect x="54.9" y="362.6" width="8.4" height="38.9" fill="#c8102e" stroke="#c8102e" stroke-width="0.5"/>
<circle cx="57.1" cy="350.67" r="0.85" fill="#111" stroke="none" stroke-width="0.8"/>
<circle cx="59.1" cy="350.67" r="0.85" fill="#111" stroke="none" stroke-width="0.8"/>
<circle cx="61.1" cy="350.67" r="0.85" fill="#111" stroke="none" stroke-width="0.8"/>
<line x1="55.5" y1="350.67" x2="62.8" y2="350.67" stroke="#231f20" stroke-width="0.7"/>
<rect x="68.8" y="386.79" width="8.6" height="14.71" fill="#3ca0dc" stroke="#3ca0dc" stroke-width="0.5"/>
<line x1="73.1" y1="386.02" x2="73.1" y2="387.57" stroke="#231f20" stroke-width="0.7"/>
<line x1="71.5" y1="386.02" x2="74.7" y2="386.02" stroke="#231f20" stroke-width="0.7"/>
<line x1="71.5" y1="387.57" x2="74.7" y2="387.57" stroke="#231f20" stroke-width="0.7"/>
<circle cx="70.9" cy="385.44" r="0.85" fill="#111" stroke="none" stroke-width="0.8"/>
<circle cx="73.1" cy="386.99" r="0.85" fill="#111" stroke="none" stroke-width="0.8"/>
<circle cx="75.3" cy="386.6" r="0.85" fill="#111" stroke="none" stroke-width="0.8"/>
<rect x="91.9" y="396.08" width="8.6" height="5.42" fill="#c8102e" stroke="#c8102e" stroke-width="0.5"/>
<circle cx="94.2" cy="396.08" r="0.85" fill="#111" stroke="none" stroke-width="0.8"/>
<circle cx="96.2" cy="395.69" r="0.85" fill="#111" stroke="none" stroke-width="0.8"/>
<circle cx="98.2" cy="396.28" r="0.85" fill="#111" stroke="none" stroke-width="0.8"/>
<rect x="105.8" y="394.92" width="8.8" height="6.58" fill="#3ca0dc" stroke="#3ca0dc" stroke-width="0.5"/>
<circle cx="108.2" cy="394.92" r="0.85" fill="#111" stroke="none" stroke-width="0.8"/>
<circle cx="110.2" cy="393.95" r="0.85" fill="#111" stroke="none" stroke-width="0.8"/>
<circle cx="112.2" cy="395.11" r="0.85" fill="#111" stroke="none" stroke-width="0.8"/>
<rect x="129.5" y="393.95" width="8.6" height="7.55" fill="#c8102e" stroke="#c8102e" stroke-width="0.5"/>
<line x1="133.8" y1="391.24" x2="133.8" y2="396.66" stroke="#231f20" stroke-width="0.7"/>
<line x1="132.2" y1="391.24" x2="135.4" y2="391.24" stroke="#231f20" stroke-width="0.7"/>
<line x1="132.2" y1="396.66" x2="135.4" y2="396.66" stroke="#231f20" stroke-width="0.7"/>
<circle cx="133.8" cy="387.76" r="1" fill="#111" stroke="none" stroke-width="0.8"/>
<circle cx="131.3" cy="395.69" r="1" fill="#111" stroke="none" stroke-width="0.8"/>
<circle cx="136.3" cy="398.02" r="1" fill="#111" stroke="none" stroke-width="0.8"/>
<rect x="143.2" y="391.63" width="9" height="9.87" fill="#3ca0dc" stroke="#3ca0dc" stroke-width="0.5"/>
<line x1="147.7" y1="387.37" x2="147.7" y2="395.89" stroke="#231f20" stroke-width="0.7"/>
<line x1="146.1" y1="387.37" x2="149.3" y2="387.37" stroke="#231f20" stroke-width="0.7"/>
<line x1="146.1" y1="395.89" x2="149.3" y2="395.89" stroke="#231f20" stroke-width="0.7"/>
<circle cx="147.7" cy="381.96" r="1" fill="#111" stroke="none" stroke-width="0.8"/>
<circle cx="144.9" cy="396.86" r="1" fill="#111" stroke="none" stroke-width="0.8"/>
<circle cx="150.5" cy="396.86" r="1" fill="#111" stroke="none" stroke-width="0.8"/>
<circle cx="147.7" cy="390.66" r="1" fill="#111" stroke="none" stroke-width="0.8"/>
<circle cx="58.9" cy="330.2" r="1.75" fill="#d4b47c" stroke="#6a5232" stroke-width="0.8"/>
<circle cx="72.3" cy="330.2" r="1.75" fill="#d4b47c" stroke="#6a5232" stroke-width="0.8"/>
<line x1="96.6" y1="359.7" x2="96.6" y2="364.9" stroke="#4a4a4a" stroke-width="0.6"/>
<line x1="95.2" y1="359.7" x2="98" y2="359.7" stroke="#4a4a4a" stroke-width="0.6"/>
<line x1="95.2" y1="364.9" x2="98" y2="364.9" stroke="#4a4a4a" stroke-width="0.6"/>
<circle cx="96.6" cy="362.3" r="1.75" fill="#d4b47c" stroke="#6a5232" stroke-width="0.8"/>
<line x1="110.4" y1="356.5" x2="110.4" y2="362.9" stroke="#4a4a4a" stroke-width="0.6"/>
<line x1="109" y1="356.5" x2="111.8" y2="356.5" stroke="#4a4a4a" stroke-width="0.6"/>
<line x1="109" y1="362.9" x2="111.8" y2="362.9" stroke="#4a4a4a" stroke-width="0.6"/>
<circle cx="110.4" cy="359.7" r="1.75" fill="#d4b47c" stroke="#6a5232" stroke-width="0.8"/>
<line x1="133.9" y1="364.4" x2="133.9" y2="372.8" stroke="#4a4a4a" stroke-width="0.6"/>
<line x1="132.5" y1="364.4" x2="135.3" y2="364.4" stroke="#4a4a4a" stroke-width="0.6"/>
<line x1="132.5" y1="372.8" x2="135.3" y2="372.8" stroke="#4a4a4a" stroke-width="0.6"/>
<circle cx="133.9" cy="368.6" r="1.75" fill="#d4b47c" stroke="#6a5232" stroke-width="0.8"/>
<line x1="147.7" y1="366.5" x2="147.7" y2="375.7" stroke="#4a4a4a" stroke-width="0.6"/>
<line x1="146.3" y1="366.5" x2="149.1" y2="366.5" stroke="#4a4a4a" stroke-width="0.6"/>
<line x1="146.3" y1="375.7" x2="149.1" y2="375.7" stroke="#4a4a4a" stroke-width="0.6"/>
<circle cx="147.7" cy="371.1" r="1.75" fill="#d4b47c" stroke="#6a5232" stroke-width="0.8"/>
<line x1="59.3" y1="341.2" x2="72.7" y2="341.2" stroke="#231f20" stroke-width="0.7"/>
<line x1="59.3" y1="341.2" x2="59.3" y2="344.3" stroke="#231f20" stroke-width="0.7"/>
<line x1="72.7" y1="341.2" x2="72.7" y2="344.3" stroke="#231f20" stroke-width="0.7"/>
<line x1="62.08" y1="338.15" x2="62.08" y2="340.25" stroke="#333" stroke-width="0.55"/>
<line x1="61.17" y1="338.68" x2="62.98" y2="339.72" stroke="#333" stroke-width="0.55"/>
<line x1="61.17" y1="339.72" x2="62.98" y2="338.68" stroke="#333" stroke-width="0.55"/>
<line x1="64.83" y1="338.15" x2="64.83" y2="340.25" stroke="#333" stroke-width="0.55"/>
<line x1="63.92" y1="338.68" x2="65.73" y2="339.72" stroke="#333" stroke-width="0.55"/>
<line x1="63.92" y1="339.72" x2="65.73" y2="338.68" stroke="#333" stroke-width="0.55"/>
<line x1="67.58" y1="338.15" x2="67.58" y2="340.25" stroke="#333" stroke-width="0.55"/>
<line x1="66.67" y1="338.68" x2="68.48" y2="339.72" stroke="#333" stroke-width="0.55"/>
<line x1="66.67" y1="339.72" x2="68.48" y2="338.68" stroke="#333" stroke-width="0.55"/>
<line x1="70.33" y1="338.15" x2="70.33" y2="340.25" stroke="#333" stroke-width="0.55"/>
<line x1="69.42" y1="338.68" x2="71.23" y2="339.72" stroke="#333" stroke-width="0.55"/>
<line x1="69.42" y1="339.72" x2="71.23" y2="338.68" stroke="#333" stroke-width="0.55"/>
<line x1="96.5" y1="388.8" x2="110.4" y2="388.8" stroke="#555" stroke-width="0.7"/>
<line x1="96.5" y1="388.8" x2="96.5" y2="391.2" stroke="#555" stroke-width="0.7"/>
<line x1="110.4" y1="388.8" x2="110.4" y2="391.2" stroke="#555" stroke-width="0.7"/>
<text x="102.8" y="386.02" font-size="7.3" text-anchor="middle" fill="#231f20" font-weight="normal" textLength="6.63" lengthAdjust="spacingAndGlyphs" stroke="#231f20" stroke-width="0.15">ns</text>
<line x1="133.9" y1="376.4" x2="147.7" y2="376.4" stroke="#555" stroke-width="0.7"/>
<line x1="133.9" y1="376.4" x2="133.9" y2="379" stroke="#555" stroke-width="0.7"/>
<line x1="147.7" y1="376.4" x2="147.7" y2="379" stroke="#555" stroke-width="0.7"/>
<text x="141" y="374.62" font-size="7.3" text-anchor="middle" fill="#231f20" font-weight="normal" textLength="6.63" lengthAdjust="spacingAndGlyphs" stroke="#231f20" stroke-width="0.15">ns</text>
<text x="56.77" y="413.03" font-size="7.3" text-anchor="start" fill="#231f20" font-weight="normal" textLength="12.1" lengthAdjust="spacingAndGlyphs" stroke="#231f20" stroke-width="0.15">PAS</text>
<text x="68.57" y="414.83" font-size="4.2" text-anchor="start" fill="#231f20" font-weight="normal" textLength="6.66" lengthAdjust="spacingAndGlyphs" stroke="#231f20" stroke-width="0.15">100</text>
<text x="92.91" y="413.03" font-size="7.3" text-anchor="start" fill="#231f20" font-weight="normal" textLength="12.1" lengthAdjust="spacingAndGlyphs" stroke="#231f20" stroke-width="0.15">PAS</text>
<text x="104.71" y="414.83" font-size="4.2" text-anchor="start" fill="#231f20" font-weight="normal" textLength="9.98" lengthAdjust="spacingAndGlyphs" stroke="#231f20" stroke-width="0.15">70:30</text>
<text x="140.8" y="413.03" font-size="7.3" text-anchor="middle" fill="#231f20" font-weight="normal" textLength="21" lengthAdjust="spacingAndGlyphs" stroke="#231f20" stroke-width="0.15">Plasma</text>
<rect x="61.3" y="420.4" width="5.6" height="5.6" fill="#c8102e" stroke="none" stroke-width="0.8"/>
<text x="69.7" y="425.83" font-size="7.3" text-anchor="start" fill="#231f20" font-weight="normal" textLength="28.2" lengthAdjust="spacingAndGlyphs" stroke="#231f20" stroke-width="0.15">ALC-0315</text>
<rect x="104.6" y="420.4" width="5.6" height="5.6" fill="#3ca0dc" stroke="none" stroke-width="0.8"/>
<text x="113" y="425.83" font-size="7.3" text-anchor="start" fill="#231f20" font-weight="normal" textLength="25.4" lengthAdjust="spacingAndGlyphs" stroke="#231f20" stroke-width="0.15">NTX-001</text>
<text transform="translate(15.3,363.4) rotate(-90)" x="0" y="2.41" font-size="7.3" text-anchor="middle" fill="#231f20" stroke="#231f20" stroke-width="0.15" textLength="66" lengthAdjust="spacingAndGlyphs">LNP uptake: DiD<tspan font-size="4" dy="-2">+</tspan><tspan dy="2"> MFI</tspan></text>
<text transform="translate(178.3,364.7) rotate(90)" x="0" y="2.41" font-size="7.3" text-anchor="middle" fill="#e0a040" stroke="#e0a040" stroke-width="0.15" textLength="56" lengthAdjust="spacingAndGlyphs">DiD<tspan font-size="4" dy="-2">+</tspan><tspan dy="2"> platelets (%)</tspan></text>
<text x="193" y="293.8" font-size="11.6" text-anchor="start" fill="#000" font-weight="bold" textLength="6.09" lengthAdjust="spacingAndGlyphs">F</text>
<clipPath id="cF0"><rect x="215.7" y="300.2" width="122.3" height="45.6"/></clipPath><g clip-path="url(#cF0)">
<line x1="215.7" y1="323.5" x2="338" y2="323.5" stroke="#9cc6e6" stroke-width="0.6"/>
<line x1="215.7" y1="335.1" x2="338" y2="335.1" stroke="#9cc6e6" stroke-width="0.6"/>
<path d="M210,323.5 C215,323.5 234.5,323.63 240,323.5 C245.5,323.37 241.67,323.23 243,322.7 C244.33,322.17 246.1,321.25 248,320.3 C249.9,319.35 252.98,317.7 254.4,317 C255.82,316.3 255.4,316.4 256.5,316.1 C257.6,315.8 259.17,315.6 261,315.2 C262.83,314.8 265.75,314.65 267.5,313.7 C269.25,312.75 270.32,311.12 271.5,309.5 C272.68,307.88 273.58,305.25 274.6,304 C275.62,302.75 276.7,302.08 277.6,302 C278.5,301.92 279.15,302.5 280,303.5 C280.85,304.5 281.58,305.58 282.7,308 C283.82,310.42 285.57,315.55 286.7,318 C287.83,320.45 288.62,321.78 289.5,322.7 C290.38,323.62 290.25,323.37 292,323.5 C293.75,323.63 298.67,323.5 300,323.5 Z" fill="#a5cdee" stroke="none" stroke-width="0.8" fill-opacity="0.9"/>
<path d="M240,323.5 C240.5,323.37 241.67,323.23 243,322.7 C244.33,322.17 246.1,321.25 248,320.3 C249.9,319.35 252.98,317.7 254.4,317 C255.82,316.3 255.4,316.4 256.5,316.1 C257.6,315.8 259.17,315.6 261,315.2 C262.83,314.8 265.75,314.65 267.5,313.7 C269.25,312.75 270.32,311.12 271.5,309.5 C272.68,307.88 273.58,305.25 274.6,304 C275.62,302.75 276.7,302.08 277.6,302 C278.5,301.92 279.15,302.5 280,303.5 C280.85,304.5 281.58,305.58 282.7,308 C283.82,310.42 285.57,315.55 286.7,318 C287.83,320.45 288.62,321.78 289.5,322.7 C290.38,323.62 291.58,323.37 292,323.5" fill="none" stroke="#3b7db5" stroke-width="0.6"/>
<path d="M210,335.1 C212.67,335.1 222.83,335.4 226,335.1 C229.17,334.8 227.33,334.3 229,333.3 C230.67,332.3 233.45,330.65 236,329.1 C238.55,327.55 241.23,325.53 244.3,324 C247.37,322.47 251.62,321.05 254.4,319.9 C257.18,318.75 258.82,318.07 261,317.1 C263.18,316.13 265.83,314.27 267.5,314.1 C269.17,313.93 269.82,315.13 271,316.1 C272.18,317.07 272.65,317.58 274.6,319.9 C276.55,322.22 280.72,327.63 282.7,330 C284.68,332.37 285.45,333.25 286.5,334.1 C287.55,334.95 286.75,334.93 289,335.1 C291.25,335.27 298.17,335.1 300,335.1 Z" fill="#5ea9e2" stroke="none" stroke-width="0.8" fill-opacity="0.6"/>
<path d="M226,335.1 C226.5,334.8 227.33,334.3 229,333.3 C230.67,332.3 233.45,330.65 236,329.1 C238.55,327.55 241.23,325.53 244.3,324 C247.37,322.47 251.62,321.05 254.4,319.9 C257.18,318.75 258.82,318.07 261,317.1 C263.18,316.13 265.83,314.27 267.5,314.1 C269.17,313.93 269.82,315.13 271,316.1 C272.18,317.07 272.65,317.58 274.6,319.9 C276.55,322.22 280.72,327.63 282.7,330 C284.68,332.37 285.45,333.25 286.5,334.1 C287.55,334.95 288.58,334.93 289,335.1" fill="none" stroke="#3b7db5" stroke-width="0.6"/>
<path d="M210,345.8 C212.5,345.8 222,346.38 225,345.8 C228,345.22 226.92,343.8 228,342.3 C229.08,340.8 230.13,338.75 231.5,336.8 C232.87,334.85 234.07,332.27 236.2,330.6 C238.33,328.93 242,327.63 244.3,326.8 C246.6,325.97 248.32,325.87 250,325.6 C251.68,325.33 252.9,325.17 254.4,325.2 C255.9,325.23 256.98,325.03 259,325.8 C261.02,326.57 263.9,327.97 266.5,329.8 C269.1,331.63 272.23,334.63 274.6,336.8 C276.97,338.97 279.13,341.38 280.7,342.8 C282.27,344.22 282.95,344.8 284,345.3 C285.05,345.8 284.33,345.72 287,345.8 C289.67,345.88 297.83,345.8 300,345.8 Z" fill="#5ea9e2" stroke="none" stroke-width="0.8" fill-opacity="0.6"/>
<path d="M225,345.8 C225.5,345.22 226.92,343.8 228,342.3 C229.08,340.8 230.13,338.75 231.5,336.8 C232.87,334.85 234.07,332.27 236.2,330.6 C238.33,328.93 242,327.63 244.3,326.8 C246.6,325.97 248.32,325.87 250,325.6 C251.68,325.33 252.9,325.17 254.4,325.2 C255.9,325.23 256.98,325.03 259,325.8 C261.02,326.57 263.9,327.97 266.5,329.8 C269.1,331.63 272.23,334.63 274.6,336.8 C276.97,338.97 279.13,341.38 280.7,342.8 C282.27,344.22 282.95,344.8 284,345.3 C285.05,345.8 286.5,345.72 287,345.8" fill="none" stroke="#3b7db5" stroke-width="0.6"/>
</g>
<rect x="215.7" y="300.2" width="122.3" height="45.6" fill="none" stroke="#333" stroke-width="0.9"/>
<path d="M222,345.8v2.2M226,345.8v2.2M230,345.8v2.2M234,345.8v2.2M237.5,345.8v2.2M240.5,345.8v2.2M258.5,345.8v2.2M261.5,345.8v2.2M264.5,345.8v2.2M267.5,345.8v2.2M270.5,345.8v2.2M273.5,345.8v2.2M276.5,345.8v2.2M279.3,345.8v2.2M288.37,345.8v2.2M291.98,345.8v2.2M294.54,345.8v2.2M296.53,345.8v2.2M298.15,345.8v2.2M299.52,345.8v2.2M300.71,345.8v2.2M301.76,345.8v2.2M308.87,345.8v2.2M312.48,345.8v2.2M315.04,345.8v2.2M317.03,345.8v2.2M318.65,345.8v2.2M320.02,345.8v2.2M321.21,345.8v2.2M322.26,345.8v2.2M329.37,345.8v2.2M332.98,345.8v2.2M335.54,345.8v2.2M217.9,345.8v3.2M251.3,345.8v3.2M282.2,345.8v3.2M302.4,345.8v3.2M324,345.8v3.2" fill="none" stroke="#1a1a1a" stroke-width="0.65"/>
<rect x="243.4" y="345.8" width="12.3" height="1.9" fill="#2a2a2a" stroke="none" stroke-width="0.8"/>
<text x="333.4" y="308.03" font-size="7.3" text-anchor="end" fill="#4aa3dc" font-weight="normal" textLength="25.12" lengthAdjust="spacingAndGlyphs" stroke="#4aa3dc" stroke-width="0.15">NTX-001</text>
<text x="313.8" y="318.8" font-size="7.3" text-anchor="start" fill="#231f20" font-weight="normal" textLength="11" lengthAdjust="spacingAndGlyphs" stroke="#231f20" stroke-width="0.15">PAS</text>
<text x="324.5" y="320.8" font-size="4" text-anchor="start" fill="#231f20" font-weight="normal" textLength="7.4" lengthAdjust="spacingAndGlyphs" stroke="#231f20" stroke-width="0.15">100</text>
<text x="313.8" y="330.4" font-size="7.3" text-anchor="start" fill="#231f20" font-weight="normal" textLength="11" lengthAdjust="spacingAndGlyphs" stroke="#231f20" stroke-width="0.15">PAS</text>
<text x="324.5" y="332.4" font-size="4" text-anchor="start" fill="#231f20" font-weight="normal" textLength="10.8" lengthAdjust="spacingAndGlyphs" stroke="#231f20" stroke-width="0.15">70:30</text>
<text x="313.8" y="344.43" font-size="7.3" text-anchor="start" fill="#231f20" font-weight="normal" textLength="19.6" lengthAdjust="spacingAndGlyphs" stroke="#231f20" stroke-width="0.15">Plasma</text>
<clipPath id="cF1"><rect x="215.7" y="356" width="122.3" height="45.6"/></clipPath><g clip-path="url(#cF1)">
<line x1="215.7" y1="379.3" x2="338" y2="379.3" stroke="#e59aa0" stroke-width="0.6"/>
<line x1="215.7" y1="390.9" x2="338" y2="390.9" stroke="#e59aa0" stroke-width="0.6"/>
<path d="M210,379.3 C224.17,379.3 280.47,379.43 295,379.3 C309.53,379.17 296.43,379.25 297.2,378.5 C297.97,377.75 298.75,376.92 299.6,374.8 C300.45,372.68 301.42,368.68 302.3,365.8 C303.18,362.92 304.02,357.58 304.9,357.5 C305.78,357.42 306.67,362.5 307.6,365.3 C308.53,368.1 309.6,372.13 310.5,374.3 C311.4,376.47 312.17,377.47 313,378.3 C313.83,379.13 312.67,379.13 315.5,379.3 C318.33,379.47 327.58,379.3 330,379.3 Z" fill="#d9534a" stroke="none" stroke-width="0.8" fill-opacity="0.72"/>
<path d="M295,379.3 C295.37,379.17 296.43,379.25 297.2,378.5 C297.97,377.75 298.75,376.92 299.6,374.8 C300.45,372.68 301.42,368.68 302.3,365.8 C303.18,362.92 304.02,357.58 304.9,357.5 C305.78,357.42 306.67,362.5 307.6,365.3 C308.53,368.1 309.6,372.13 310.5,374.3 C311.4,376.47 312.17,377.47 313,378.3 C313.83,379.13 315.08,379.13 315.5,379.3" fill="none" stroke="#a8302c" stroke-width="0.6"/>
<path d="M210,390.9 C212.33,390.9 221.17,391.2 224,390.9 C226.83,390.6 226,389.9 227,389.1 C228,388.3 229.08,386.87 230,386.1 C230.92,385.33 231.58,384.83 232.5,384.5 C233.42,384.17 234.55,384.65 235.5,384.1 C236.45,383.55 236.73,382.6 238.2,381.2 C239.67,379.8 241.93,377.38 244.3,375.7 C246.67,374.02 250.05,372 252.4,371.1 C254.75,370.2 256.38,370.3 258.4,370.3 C260.42,370.3 262.47,370.37 264.5,371.1 C266.53,371.83 268.58,372.92 270.6,374.7 C272.62,376.48 274.75,379.62 276.6,381.8 C278.45,383.98 280.35,386.35 281.7,387.8 C283.05,389.25 283.82,389.98 284.7,390.5 C285.58,391.02 284.45,390.83 287,390.9 C289.55,390.97 297.83,390.9 300,390.9 Z" fill="#d9534a" stroke="none" stroke-width="0.8" fill-opacity="0.72"/>
<path d="M224,390.9 C224.5,390.6 226,389.9 227,389.1 C228,388.3 229.08,386.87 230,386.1 C230.92,385.33 231.58,384.83 232.5,384.5 C233.42,384.17 234.55,384.65 235.5,384.1 C236.45,383.55 236.73,382.6 238.2,381.2 C239.67,379.8 241.93,377.38 244.3,375.7 C246.67,374.02 250.05,372 252.4,371.1 C254.75,370.2 256.38,370.3 258.4,370.3 C260.42,370.3 262.47,370.37 264.5,371.1 C266.53,371.83 268.58,372.92 270.6,374.7 C272.62,376.48 274.75,379.62 276.6,381.8 C278.45,383.98 280.35,386.35 281.7,387.8 C283.05,389.25 283.82,389.98 284.7,390.5 C285.58,391.02 286.62,390.83 287,390.9" fill="none" stroke="#a8302c" stroke-width="0.6"/>
<path d="M210,401.6 C210.83,401.6 213.67,402.18 215,401.6 C216.33,401.02 217,399.93 218,398.1 C219,396.27 220,393.02 221,390.6 C222,388.18 222.98,385.27 224,383.6 C225.02,381.93 226.1,380.97 227.1,380.6 C228.1,380.23 229.15,380.87 230,381.4 C230.85,381.93 231.37,382.77 232.2,383.8 C233.03,384.83 234,386.52 235,387.6 C236,388.68 236.65,389.18 238.2,390.3 C239.75,391.42 242.33,393.35 244.3,394.3 C246.27,395.25 247.72,395.58 250,396 C252.28,396.42 255.33,396.73 258,396.8 C260.67,396.87 263.23,396.65 266,396.4 C268.77,396.15 272.27,395.47 274.6,395.3 C276.93,395.13 278.32,395.18 280,395.4 C281.68,395.62 283.03,395.95 284.7,396.6 C286.37,397.25 288.32,398.52 290,399.3 C291.68,400.08 293.63,400.92 294.8,401.3 C295.97,401.68 294.47,401.55 297,401.6 C299.53,401.65 307.83,401.6 310,401.6 Z" fill="#d9534a" stroke="none" stroke-width="0.8" fill-opacity="0.72"/>
<path d="M215,401.6 C215.5,401.02 217,399.93 218,398.1 C219,396.27 220,393.02 221,390.6 C222,388.18 222.98,385.27 224,383.6 C225.02,381.93 226.1,380.97 227.1,380.6 C228.1,380.23 229.15,380.87 230,381.4 C230.85,381.93 231.37,382.77 232.2,383.8 C233.03,384.83 234,386.52 235,387.6 C236,388.68 236.65,389.18 238.2,390.3 C239.75,391.42 242.33,393.35 244.3,394.3 C246.27,395.25 247.72,395.58 250,396 C252.28,396.42 255.33,396.73 258,396.8 C260.67,396.87 263.23,396.65 266,396.4 C268.77,396.15 272.27,395.47 274.6,395.3 C276.93,395.13 278.32,395.18 280,395.4 C281.68,395.62 283.03,395.95 284.7,396.6 C286.37,397.25 288.32,398.52 290,399.3 C291.68,400.08 293.63,400.92 294.8,401.3 C295.97,401.68 296.63,401.55 297,401.6" fill="none" stroke="#a8302c" stroke-width="0.6"/>
</g>
<rect x="215.7" y="356" width="122.3" height="45.6" fill="none" stroke="#333" stroke-width="0.9"/>
<path d="M222,401.6v2.2M226,401.6v2.2M230,401.6v2.2M234,401.6v2.2M237.5,401.6v2.2M240.5,401.6v2.2M258.5,401.6v2.2M261.5,401.6v2.2M264.5,401.6v2.2M267.5,401.6v2.2M270.5,401.6v2.2M273.5,401.6v2.2M276.5,401.6v2.2M279.3,401.6v2.2M288.37,401.6v2.2M291.98,401.6v2.2M294.54,401.6v2.2M296.53,401.6v2.2M298.15,401.6v2.2M299.52,401.6v2.2M300.71,401.6v2.2M301.76,401.6v2.2M308.87,401.6v2.2M312.48,401.6v2.2M315.04,401.6v2.2M317.03,401.6v2.2M318.65,401.6v2.2M320.02,401.6v2.2M321.21,401.6v2.2M322.26,401.6v2.2M329.37,401.6v2.2M332.98,401.6v2.2M335.54,401.6v2.2M217.9,401.6v3.2M251.3,401.6v3.2M282.2,401.6v3.2M302.4,401.6v3.2M324,401.6v3.2" fill="none" stroke="#1a1a1a" stroke-width="0.65"/>
<rect x="243.4" y="401.6" width="12.3" height="1.9" fill="#2a2a2a" stroke="none" stroke-width="0.8"/>
<text x="333.4" y="363.83" font-size="7.3" text-anchor="end" fill="#d2333f" font-weight="normal" textLength="28.27" lengthAdjust="spacingAndGlyphs" stroke="#d2333f" stroke-width="0.15">ALC-0315</text>
<text x="313.8" y="374.6" font-size="7.3" text-anchor="start" fill="#231f20" font-weight="normal" textLength="11" lengthAdjust="spacingAndGlyphs" stroke="#231f20" stroke-width="0.15">PAS</text>
<text x="324.5" y="376.6" font-size="4" text-anchor="start" fill="#231f20" font-weight="normal" textLength="7.4" lengthAdjust="spacingAndGlyphs" stroke="#231f20" stroke-width="0.15">100</text>
<text x="313.8" y="386.2" font-size="7.3" text-anchor="start" fill="#231f20" font-weight="normal" textLength="11" lengthAdjust="spacingAndGlyphs" stroke="#231f20" stroke-width="0.15">PAS</text>
<text x="324.5" y="388.2" font-size="4" text-anchor="start" fill="#231f20" font-weight="normal" textLength="10.8" lengthAdjust="spacingAndGlyphs" stroke="#231f20" stroke-width="0.15">70:30</text>
<text x="313.8" y="400.23" font-size="7.3" text-anchor="start" fill="#231f20" font-weight="normal" textLength="19.6" lengthAdjust="spacingAndGlyphs" stroke="#231f20" stroke-width="0.15">Plasma</text>
<text x="213.4" y="414.4" font-size="6.1" text-anchor="start" fill="#231f20" font-weight="normal" stroke="#231f20" stroke-width="0.15">−10</text>
<text x="224" y="411.4" font-size="3.9" text-anchor="start" fill="#231f20" font-weight="normal" stroke="#231f20" stroke-width="0.15">4</text>
<text x="251.3" y="414.4" font-size="6.1" text-anchor="middle" fill="#231f20" font-weight="normal" stroke="#231f20" stroke-width="0.15">0</text>
<text x="278.2" y="414.4" font-size="6.1" text-anchor="start" fill="#231f20" font-weight="normal" stroke="#231f20" stroke-width="0.15">10</text>
<text x="285" y="411.4" font-size="3.9" text-anchor="start" fill="#231f20" font-weight="normal" stroke="#231f20" stroke-width="0.15">4</text>
<text x="298.4" y="414.4" font-size="6.1" text-anchor="start" fill="#231f20" font-weight="normal" stroke="#231f20" stroke-width="0.15">10</text>
<text x="305.2" y="411.4" font-size="3.9" text-anchor="start" fill="#231f20" font-weight="normal" stroke="#231f20" stroke-width="0.15">5</text>
<text x="320" y="414.4" font-size="6.1" text-anchor="start" fill="#231f20" font-weight="normal" stroke="#231f20" stroke-width="0.15">10</text>
<text x="326.8" y="411.4" font-size="3.9" text-anchor="start" fill="#231f20" font-weight="normal" stroke="#231f20" stroke-width="0.15">6</text>
<text x="276.6" y="426.33" font-size="7.3" text-anchor="middle" fill="#231f20" font-weight="normal" textLength="110.5" lengthAdjust="spacingAndGlyphs" stroke="#231f20" stroke-width="0.15">mRNA-LNP DiD fluorescence intensity</text>
<text transform="translate(196.5,351.2) rotate(-90)" x="0" y="2.41" font-size="7.3" text-anchor="middle" fill="#231f20" stroke="#231f20" stroke-width="0.15" textLength="65.2" lengthAdjust="spacingAndGlyphs">Relative platelet count</text>
<text transform="translate(206.5,351.2) rotate(-90)" x="0" y="2.41" font-size="7.3" text-anchor="middle" fill="#231f20" stroke="#231f20" stroke-width="0.15" textLength="59.2" lengthAdjust="spacingAndGlyphs">normalized to mode</text>
<text x="343.8" y="294.4" font-size="11.6" text-anchor="start" fill="#000" font-weight="bold" textLength="7.76" lengthAdjust="spacingAndGlyphs">G</text>
<line x1="376.4" y1="327" x2="376.4" y2="402.3" stroke="#151515" stroke-width="1.2"/>
<line x1="484.8" y1="327" x2="484.8" y2="402.3" stroke="#151515" stroke-width="1.2"/>
<line x1="375.8" y1="401.7" x2="485.4" y2="401.7" stroke="#151515" stroke-width="1.2"/>
<line x1="373.5" y1="329.4" x2="376.4" y2="329.4" stroke="#151515" stroke-width="0.95"/>
<text x="370.4" y="331.6" font-size="6.1" text-anchor="end" fill="#231f20" font-weight="normal" stroke="#231f20" stroke-width="0.15">4</text>
<line x1="373.5" y1="347.48" x2="376.4" y2="347.48" stroke="#151515" stroke-width="0.95"/>
<text x="370.4" y="349.67" font-size="6.1" text-anchor="end" fill="#231f20" font-weight="normal" stroke="#231f20" stroke-width="0.15">3</text>
<line x1="373.5" y1="365.55" x2="376.4" y2="365.55" stroke="#151515" stroke-width="0.95"/>
<text x="370.4" y="367.75" font-size="6.1" text-anchor="end" fill="#231f20" font-weight="normal" stroke="#231f20" stroke-width="0.15">2</text>
<line x1="373.5" y1="383.62" x2="376.4" y2="383.62" stroke="#151515" stroke-width="0.95"/>
<text x="370.4" y="385.82" font-size="6.1" text-anchor="end" fill="#231f20" font-weight="normal" stroke="#231f20" stroke-width="0.15">1</text>
<line x1="373.5" y1="401.7" x2="376.4" y2="401.7" stroke="#151515" stroke-width="0.95"/>
<text x="370.4" y="403.9" font-size="6.1" text-anchor="end" fill="#231f20" font-weight="normal" stroke="#231f20" stroke-width="0.15">0</text>
<line x1="374.4" y1="338.44" x2="376.4" y2="338.44" stroke="#151515" stroke-width="0.81"/>
<line x1="374.4" y1="356.51" x2="376.4" y2="356.51" stroke="#151515" stroke-width="0.81"/>
<line x1="374.4" y1="374.59" x2="376.4" y2="374.59" stroke="#151515" stroke-width="0.81"/>
<line x1="374.4" y1="392.66" x2="376.4" y2="392.66" stroke="#151515" stroke-width="0.81"/>
<line x1="484.8" y1="329.4" x2="487.7" y2="329.4" stroke="#151515" stroke-width="0.95"/>
<text x="490.9" y="331.6" font-size="6.1" text-anchor="start" fill="#231f20" font-weight="normal" stroke="#231f20" stroke-width="0.15">100</text>
<line x1="484.8" y1="343.86" x2="487.7" y2="343.86" stroke="#151515" stroke-width="0.95"/>
<text x="490.9" y="346.06" font-size="6.1" text-anchor="start" fill="#231f20" font-weight="normal" stroke="#231f20" stroke-width="0.15">80</text>
<line x1="484.8" y1="358.32" x2="487.7" y2="358.32" stroke="#151515" stroke-width="0.95"/>
<text x="490.9" y="360.52" font-size="6.1" text-anchor="start" fill="#231f20" font-weight="normal" stroke="#231f20" stroke-width="0.15">60</text>
<line x1="484.8" y1="372.78" x2="487.7" y2="372.78" stroke="#151515" stroke-width="0.95"/>
<text x="490.9" y="374.98" font-size="6.1" text-anchor="start" fill="#231f20" font-weight="normal" stroke="#231f20" stroke-width="0.15">40</text>
<line x1="484.8" y1="387.24" x2="487.7" y2="387.24" stroke="#151515" stroke-width="0.95"/>
<text x="490.9" y="389.44" font-size="6.1" text-anchor="start" fill="#231f20" font-weight="normal" stroke="#231f20" stroke-width="0.15">20</text>
<line x1="484.8" y1="401.7" x2="487.7" y2="401.7" stroke="#151515" stroke-width="0.95"/>
<text x="490.9" y="403.9" font-size="6.1" text-anchor="start" fill="#231f20" font-weight="normal" stroke="#231f20" stroke-width="0.15">0</text>
<line x1="484.8" y1="336.63" x2="486.8" y2="336.63" stroke="#151515" stroke-width="0.81"/>
<line x1="484.8" y1="351.09" x2="486.8" y2="351.09" stroke="#151515" stroke-width="0.81"/>
<line x1="484.8" y1="365.55" x2="486.8" y2="365.55" stroke="#151515" stroke-width="0.81"/>
<line x1="484.8" y1="380.01" x2="486.8" y2="380.01" stroke="#151515" stroke-width="0.81"/>
<line x1="484.8" y1="394.47" x2="486.8" y2="394.47" stroke="#151515" stroke-width="0.81"/>
<rect x="381.2" y="385" width="9.8" height="16.7" fill="#e8f0fa" stroke="#e8f0fa" stroke-width="0.5"/>
<line x1="386.1" y1="401.7" x2="386.1" y2="404.2" stroke="#151515" stroke-width="0.9"/>
<text x="386.1" y="413" font-size="6.1" text-anchor="middle" fill="#231f20" font-weight="normal" stroke="#231f20" stroke-width="0.15">0</text>
<rect x="396.1" y="380.4" width="9.8" height="21.3" fill="#dbe8f6" stroke="#dbe8f6" stroke-width="0.5"/>
<line x1="401" y1="401.7" x2="401" y2="404.2" stroke="#151515" stroke-width="0.9"/>
<text x="401" y="413" font-size="6.1" text-anchor="middle" fill="#231f20" font-weight="normal" stroke="#231f20" stroke-width="0.15">7.5</text>
<rect x="410.7" y="368.4" width="9.8" height="33.3" fill="#c8def3" stroke="#c8def3" stroke-width="0.5"/>
<line x1="415.6" y1="401.7" x2="415.6" y2="404.2" stroke="#151515" stroke-width="0.9"/>
<text x="415.6" y="413" font-size="6.1" text-anchor="middle" fill="#231f20" font-weight="normal" stroke="#231f20" stroke-width="0.15">15</text>
<rect x="425.5" y="370.6" width="9.8" height="31.1" fill="#b4d2ee" stroke="#b4d2ee" stroke-width="0.5"/>
<line x1="430.4" y1="401.7" x2="430.4" y2="404.2" stroke="#151515" stroke-width="0.9"/>
<text x="430.4" y="413" font-size="6.1" text-anchor="middle" fill="#231f20" font-weight="normal" stroke="#231f20" stroke-width="0.15">30</text>
<rect x="440.1" y="386.4" width="9.8" height="15.3" fill="#95c2e8" stroke="#95c2e8" stroke-width="0.5"/>
<line x1="445" y1="401.7" x2="445" y2="404.2" stroke="#151515" stroke-width="0.9"/>
<text x="445" y="413" font-size="6.1" text-anchor="middle" fill="#231f20" font-weight="normal" stroke="#231f20" stroke-width="0.15">50</text>
<rect x="455" y="391" width="9.8" height="10.7" fill="#86bbe4" stroke="#86bbe4" stroke-width="0.5"/>
<line x1="459.9" y1="401.7" x2="459.9" y2="404.2" stroke="#151515" stroke-width="0.9"/>
<text x="459.9" y="413" font-size="6.1" text-anchor="middle" fill="#231f20" font-weight="normal" stroke="#231f20" stroke-width="0.15">75</text>
<rect x="469.7" y="394.9" width="9.8" height="6.8" fill="#46a3d5" stroke="#46a3d5" stroke-width="0.5"/>
<line x1="474.6" y1="401.7" x2="474.6" y2="404.2" stroke="#151515" stroke-width="0.9"/>
<text x="474.6" y="413" font-size="6.1" text-anchor="middle" fill="#231f20" font-weight="normal" stroke="#231f20" stroke-width="0.15">100</text>
<line x1="430.4" y1="366.2" x2="430.4" y2="375.7" stroke="#231f20" stroke-width="0.75"/>
<line x1="428.6" y1="366.2" x2="432.2" y2="366.2" stroke="#231f20" stroke-width="0.75"/>
<line x1="428.6" y1="375.7" x2="432.2" y2="375.7" stroke="#231f20" stroke-width="0.75"/>
<line x1="445" y1="381" x2="445" y2="392.7" stroke="#231f20" stroke-width="0.75"/>
<line x1="443.2" y1="381" x2="446.8" y2="381" stroke="#231f20" stroke-width="0.75"/>
<line x1="443.2" y1="392.7" x2="446.8" y2="392.7" stroke="#231f20" stroke-width="0.75"/>
<line x1="459.9" y1="385.3" x2="459.9" y2="398" stroke="#231f20" stroke-width="0.75"/>
<line x1="458.1" y1="385.3" x2="461.7" y2="385.3" stroke="#231f20" stroke-width="0.75"/>
<line x1="458.1" y1="398" x2="461.7" y2="398" stroke="#231f20" stroke-width="0.75"/>
<line x1="474.6" y1="391.2" x2="474.6" y2="399.4" stroke="#231f20" stroke-width="0.75"/>
<line x1="472.8" y1="391.2" x2="476.4" y2="391.2" stroke="#231f20" stroke-width="0.75"/>
<line x1="472.8" y1="399.4" x2="476.4" y2="399.4" stroke="#231f20" stroke-width="0.75"/>
<circle cx="382.3" cy="384.6" r="1.1" fill="#111" stroke="none" stroke-width="0.8"/>
<circle cx="386.1" cy="383.8" r="1.1" fill="#111" stroke="none" stroke-width="0.8"/>
<circle cx="389.7" cy="383.4" r="1.1" fill="#111" stroke="none" stroke-width="0.8"/>
<circle cx="397.1" cy="377.9" r="1.1" fill="#111" stroke="none" stroke-width="0.8"/>
<circle cx="400.3" cy="380.4" r="1.1" fill="#111" stroke="none" stroke-width="0.8"/>
<circle cx="404.5" cy="380.4" r="1.1" fill="#111" stroke="none" stroke-width="0.8"/>
<circle cx="411.9" cy="365.2" r="1.1" fill="#111" stroke="none" stroke-width="0.8"/>
<circle cx="416.2" cy="368.3" r="1.1" fill="#111" stroke="none" stroke-width="0.8"/>
<circle cx="419.3" cy="368.3" r="1.1" fill="#111" stroke="none" stroke-width="0.8"/>
<circle cx="430.4" cy="364.1" r="1.1" fill="#111" stroke="none" stroke-width="0.8"/>
<circle cx="430.4" cy="369.4" r="1.1" fill="#111" stroke="none" stroke-width="0.8"/>
<circle cx="430.4" cy="376.8" r="1.1" fill="#111" stroke="none" stroke-width="0.8"/>
<circle cx="441.5" cy="380.4" r="1.1" fill="#111" stroke="none" stroke-width="0.8"/>
<circle cx="448.9" cy="382.5" r="1.1" fill="#111" stroke="none" stroke-width="0.8"/>
<circle cx="444.7" cy="396.5" r="1.1" fill="#111" stroke="none" stroke-width="0.8"/>
<circle cx="459.9" cy="380.6" r="1.1" fill="#111" stroke="none" stroke-width="0.8"/>
<circle cx="459.9" cy="393.7" r="1.1" fill="#111" stroke="none" stroke-width="0.8"/>
<circle cx="459.9" cy="398" r="1.1" fill="#111" stroke="none" stroke-width="0.8"/>
<circle cx="474.3" cy="387.8" r="1.1" fill="#111" stroke="none" stroke-width="0.8"/>
<circle cx="471.1" cy="397.5" r="1.1" fill="#111" stroke="none" stroke-width="0.8"/>
<circle cx="477.5" cy="397.5" r="1.1" fill="#111" stroke="none" stroke-width="0.8"/>
<circle cx="386.1" cy="329.7" r="1.75" fill="#5e1a2c" stroke="#3a0c18" stroke-width="0.5"/>
<circle cx="401" cy="344" r="1.75" fill="#5e1a2c" stroke="#3a0c18" stroke-width="0.5"/>
<circle cx="415.6" cy="352.5" r="1.75" fill="#5e1a2c" stroke="#3a0c18" stroke-width="0.5"/>
<line x1="430.4" y1="355.5" x2="430.4" y2="362.9" stroke="#444" stroke-width="0.65"/>
<line x1="428.9" y1="355.5" x2="431.9" y2="355.5" stroke="#444" stroke-width="0.65"/>
<line x1="428.9" y1="362.9" x2="431.9" y2="362.9" stroke="#444" stroke-width="0.65"/>
<circle cx="430.4" cy="359.2" r="1.75" fill="#5e1a2c" stroke="#3a0c18" stroke-width="0.5"/>
<line x1="445" y1="358.8" x2="445" y2="370.2" stroke="#444" stroke-width="0.65"/>
<line x1="443.5" y1="358.8" x2="446.5" y2="358.8" stroke="#444" stroke-width="0.65"/>
<line x1="443.5" y1="370.2" x2="446.5" y2="370.2" stroke="#444" stroke-width="0.65"/>
<circle cx="445" cy="364.5" r="1.75" fill="#5e1a2c" stroke="#3a0c18" stroke-width="0.5"/>
<line x1="459.9" y1="362.9" x2="459.9" y2="374.7" stroke="#444" stroke-width="0.65"/>
<line x1="458.4" y1="362.9" x2="461.4" y2="362.9" stroke="#444" stroke-width="0.65"/>
<line x1="458.4" y1="374.7" x2="461.4" y2="374.7" stroke="#444" stroke-width="0.65"/>
<circle cx="459.9" cy="368.8" r="1.75" fill="#5e1a2c" stroke="#3a0c18" stroke-width="0.5"/>
<line x1="474.6" y1="366.6" x2="474.6" y2="375.6" stroke="#444" stroke-width="0.65"/>
<line x1="473.1" y1="366.6" x2="476.1" y2="366.6" stroke="#444" stroke-width="0.65"/>
<line x1="473.1" y1="375.6" x2="476.1" y2="375.6" stroke="#444" stroke-width="0.65"/>
<circle cx="474.6" cy="371.1" r="1.75" fill="#5e1a2c" stroke="#3a0c18" stroke-width="0.5"/>
<text x="430.6" y="425.03" font-size="7.3" text-anchor="middle" fill="#231f20" font-weight="normal" textLength="56.6" lengthAdjust="spacingAndGlyphs" stroke="#231f20" stroke-width="0.15">Plasma percentage</text>
<text transform="translate(348.2,364.8) rotate(-90)" x="0" y="2.41" font-size="7.3" text-anchor="middle" fill="#231f20" stroke="#231f20" stroke-width="0.15" textLength="60.8" lengthAdjust="spacingAndGlyphs">NanoLuc expression:</text>
<text transform="translate(358.7,363.7) rotate(-90)" x="0" y="2.41" font-size="7.3" text-anchor="middle" fill="#231f20" stroke="#231f20" stroke-width="0.15" textLength="64.8" lengthAdjust="spacingAndGlyphs">relative luminescence</text>
<text transform="translate(505.4,364.4) rotate(90)" x="0" y="2.41" font-size="7.3" text-anchor="middle" fill="#c9505f" stroke="#c9505f" stroke-width="0.15" textLength="53" lengthAdjust="spacingAndGlyphs">DiD<tspan font-size="4" dy="-2">+</tspan><tspan dy="2"> platelets (%)</tspan></text>
</svg>
<div id="frame"></div>
</body></html>
